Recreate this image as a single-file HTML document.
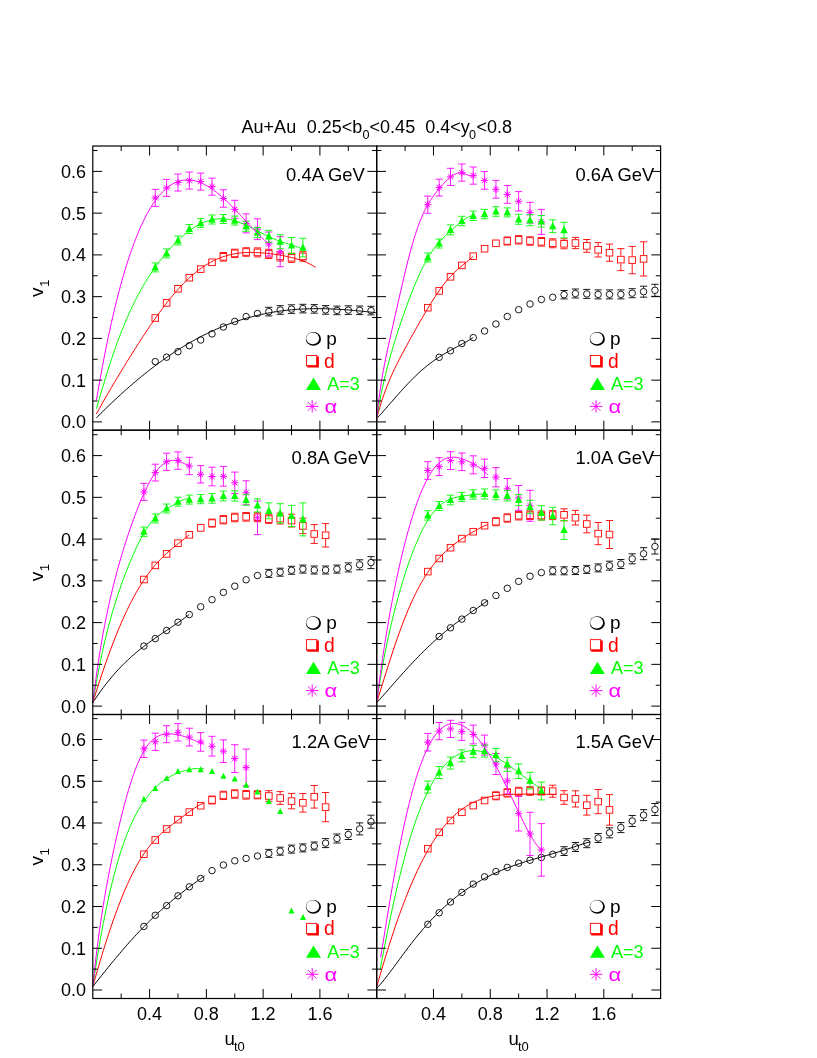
<!DOCTYPE html>
<html><head><meta charset="utf-8"><title>v1 vs ut0</title>
<style>html,body{margin:0;padding:0;background:#fff}svg{display:block;will-change:transform}</style>
</head><body>
<svg width="817" height="1058" viewBox="0 0 817 1058" font-family="Liberation Sans, sans-serif" font-size="18" fill="none" stroke-width="1">
<rect width="817" height="1058" fill="#fff"/>
<g fill="#000" stroke="none">
<text x="241.6" y="133.2">Au+Au</text>
<text x="306.8" y="133.2">0.25&lt;b</text>
<text x="362.6" y="138.79999999999998" font-size="12.6">0</text>
<text x="369.6" y="133.2">&lt;0.45</text>
<text x="425.2" y="133.2">0.4&lt;y</text>
<text x="469" y="138.79999999999998" font-size="12.6">0</text>
<text x="476.6" y="133.2">&lt;0.8</text>
</g>
<g>
<path d="M268.82 307.3V307.85M268.82 315.35V315.9M265.22 307.3H272.42M265.22 315.9H272.42" stroke="#000" stroke-width="0.9"/>
<path d="M280.17 305.7V306.25M280.17 313.75V314.3M276.57 305.7H283.77M276.57 314.3H283.77" stroke="#000" stroke-width="0.9"/>
<path d="M291.53 304.8V305.35M291.53 312.85V313.4M287.93 304.8H295.13M287.93 313.4H295.13" stroke="#000" stroke-width="0.9"/>
<path d="M302.89 304.3V304.85M302.89 312.35V312.9M299.29 304.3H306.49M299.29 312.9H306.49" stroke="#000" stroke-width="0.9"/>
<path d="M314.24 304.6V305.15M314.24 312.65V313.2M310.64 304.6H317.84M310.64 313.2H317.84" stroke="#000" stroke-width="0.9"/>
<path d="M325.6 305.6V306.15M325.6 313.65V314.2M322 305.6H329.2M322 314.2H329.2" stroke="#000" stroke-width="0.9"/>
<path d="M336.95 306.1V306.65M336.95 314.15V314.7M333.35 306.1H340.55M333.35 314.7H340.55" stroke="#000" stroke-width="0.9"/>
<path d="M348.31 305.8V306.35M348.31 313.85V314.4M344.71 305.8H351.91M344.71 314.4H351.91" stroke="#000" stroke-width="0.9"/>
<path d="M359.67 306V306.55M359.67 314.05V314.6M356.07 306H363.27M356.07 314.6H363.27" stroke="#000" stroke-width="0.9"/>
<path d="M371.02 306.3V306.85M371.02 314.35V314.9M367.42 306.3H374.62M367.42 314.9H374.62" stroke="#000" stroke-width="0.9"/>
<circle cx="155.26" cy="361.6" r="3.25" stroke="#000" stroke-width="0.9"/>
<circle cx="166.61" cy="357.2" r="3.25" stroke="#000" stroke-width="0.9"/>
<circle cx="177.97" cy="351.7" r="3.25" stroke="#000" stroke-width="0.9"/>
<circle cx="189.33" cy="345.7" r="3.25" stroke="#000" stroke-width="0.9"/>
<circle cx="200.68" cy="340" r="3.25" stroke="#000" stroke-width="0.9"/>
<circle cx="212.04" cy="333.9" r="3.25" stroke="#000" stroke-width="0.9"/>
<circle cx="223.39" cy="327" r="3.25" stroke="#000" stroke-width="0.9"/>
<circle cx="234.75" cy="321.4" r="3.25" stroke="#000" stroke-width="0.9"/>
<circle cx="246.11" cy="316.6" r="3.25" stroke="#000" stroke-width="0.9"/>
<circle cx="257.46" cy="313.5" r="3.25" stroke="#000" stroke-width="0.9"/>
<circle cx="268.82" cy="311.6" r="3.25" stroke="#000" stroke-width="0.9"/>
<circle cx="280.17" cy="310" r="3.25" stroke="#000" stroke-width="0.9"/>
<circle cx="291.53" cy="309.1" r="3.25" stroke="#000" stroke-width="0.9"/>
<circle cx="302.89" cy="308.6" r="3.25" stroke="#000" stroke-width="0.9"/>
<circle cx="314.24" cy="308.9" r="3.25" stroke="#000" stroke-width="0.9"/>
<circle cx="325.6" cy="309.9" r="3.25" stroke="#000" stroke-width="0.9"/>
<circle cx="336.95" cy="310.4" r="3.25" stroke="#000" stroke-width="0.9"/>
<circle cx="348.31" cy="310.1" r="3.25" stroke="#000" stroke-width="0.9"/>
<circle cx="359.67" cy="310.3" r="3.25" stroke="#000" stroke-width="0.9"/>
<circle cx="371.02" cy="310.6" r="3.25" stroke="#000" stroke-width="0.9"/>
<path d="M223.39 252.5V253M223.39 260.6V261.1M219.79 252.5H226.99M219.79 261.1H226.99" stroke="#f00" stroke-width="0.9"/>
<path d="M234.75 249.2V249.6M234.75 257.2V257.6M231.15 249.2H238.35M231.15 257.6H238.35" stroke="#f00" stroke-width="0.9"/>
<path d="M246.11 247.7V248.2M246.11 255.8V256.3M242.51 247.7H249.71M242.51 256.3H249.71" stroke="#f00" stroke-width="0.9"/>
<path d="M257.46 247.9V248.6M257.46 256.2V256.9M253.86 247.9H261.06M253.86 256.9H261.06" stroke="#f00" stroke-width="0.9"/>
<path d="M268.82 249.3V250.1M268.82 257.7V258.5M265.22 249.3H272.42M265.22 258.5H272.42" stroke="#f00" stroke-width="0.9"/>
<path d="M280.17 251.8V252.6M280.17 260.2V261M276.57 251.8H283.77M276.57 261H283.77" stroke="#f00" stroke-width="0.9"/>
<path d="M291.53 253.2V254M291.53 261.6V262.4M287.93 253.2H295.13M287.93 262.4H295.13" stroke="#f00" stroke-width="0.9"/>
<path d="M302.89 251.7V252.6M302.89 260.2V261.1M299.29 251.7H306.49M299.29 261.1H306.49" stroke="#f00" stroke-width="0.9"/>
<rect x="151.96" y="314.7" width="6.6" height="6.6" stroke="#f00" stroke-width="0.9"/>
<rect x="163.31" y="299.6" width="6.6" height="6.6" stroke="#f00" stroke-width="0.9"/>
<rect x="174.67" y="285.5" width="6.6" height="6.6" stroke="#f00" stroke-width="0.9"/>
<rect x="186.03" y="274.4" width="6.6" height="6.6" stroke="#f00" stroke-width="0.9"/>
<rect x="197.38" y="265.8" width="6.6" height="6.6" stroke="#f00" stroke-width="0.9"/>
<rect x="208.74" y="259" width="6.6" height="6.6" stroke="#f00" stroke-width="0.9"/>
<rect x="220.09" y="253.5" width="6.6" height="6.6" stroke="#f00" stroke-width="0.9"/>
<rect x="231.45" y="250.1" width="6.6" height="6.6" stroke="#f00" stroke-width="0.9"/>
<rect x="242.81" y="248.7" width="6.6" height="6.6" stroke="#f00" stroke-width="0.9"/>
<rect x="254.16" y="249.1" width="6.6" height="6.6" stroke="#f00" stroke-width="0.9"/>
<rect x="265.52" y="250.6" width="6.6" height="6.6" stroke="#f00" stroke-width="0.9"/>
<rect x="276.87" y="253.1" width="6.6" height="6.6" stroke="#f00" stroke-width="0.9"/>
<rect x="288.23" y="254.5" width="6.6" height="6.6" stroke="#f00" stroke-width="0.9"/>
<rect x="299.59" y="253.1" width="6.6" height="6.6" stroke="#f00" stroke-width="0.9"/>
<path d="M155.26 189.4V197.9M155.26 197.9V206.4M151.66 189.4H158.86M151.66 206.4H158.86" stroke="#f0f" stroke-width="0.9"/>
<path d="M166.61 179.4V187.9M166.61 187.9V196.4M163.01 179.4H170.21M163.01 196.4H170.21" stroke="#f0f" stroke-width="0.9"/>
<path d="M177.97 174V182.5M177.97 182.5V191M174.37 174H181.57M174.37 191H181.57" stroke="#f0f" stroke-width="0.9"/>
<path d="M189.33 172.1V180.6M189.33 180.6V189.1M185.73 172.1H192.93M185.73 189.1H192.93" stroke="#f0f" stroke-width="0.9"/>
<path d="M200.68 173.1V181.6M200.68 181.6V190.1M197.08 173.1H204.28M197.08 190.1H204.28" stroke="#f0f" stroke-width="0.9"/>
<path d="M212.04 178.2V186.7M212.04 186.7V195.2M208.44 178.2H215.64M208.44 195.2H215.64" stroke="#f0f" stroke-width="0.9"/>
<path d="M223.39 189.8V198.5M223.39 198.5V207.2M219.79 189.8H226.99M219.79 207.2H226.99" stroke="#f0f" stroke-width="0.9"/>
<path d="M234.75 200.3V209.3M234.75 209.3V218.3M231.15 200.3H238.35M231.15 218.3H238.35" stroke="#f0f" stroke-width="0.9"/>
<path d="M246.11 213.9V223.4M246.11 223.4V232.9M242.51 213.9H249.71M242.51 232.9H249.71" stroke="#f0f" stroke-width="0.9"/>
<path d="M257.46 218.8V229.2M257.46 229.2V239.6M253.86 218.8H261.06M253.86 239.6H261.06" stroke="#f0f" stroke-width="0.9"/>
<path d="M268.82 232V244M268.82 244V256M265.22 232H272.42M265.22 256H272.42" stroke="#f0f" stroke-width="0.9"/>
<path d="M280.17 236.7V251.7M280.17 251.7V266.7M276.57 236.7H283.77M276.57 266.7H283.77" stroke="#f0f" stroke-width="0.9"/>
<path d="M151.66 197.9H158.86M155.26 194.3V201.5M152.67 195.31L157.85 200.49M152.67 200.49L157.85 195.31" stroke="#f0f" stroke-width="1"/>
<path d="M163.01 187.9H170.21M166.61 184.3V191.5M164.02 185.31L169.21 190.49M164.02 190.49L169.21 185.31" stroke="#f0f" stroke-width="1"/>
<path d="M174.37 182.5H181.57M177.97 178.9V186.1M175.38 179.91L180.56 185.09M175.38 185.09L180.56 179.91" stroke="#f0f" stroke-width="1"/>
<path d="M185.73 180.6H192.93M189.33 177V184.2M186.73 178.01L191.92 183.19M186.73 183.19L191.92 178.01" stroke="#f0f" stroke-width="1"/>
<path d="M197.08 181.6H204.28M200.68 178V185.2M198.09 179.01L203.27 184.19M198.09 184.19L203.27 179.01" stroke="#f0f" stroke-width="1"/>
<path d="M208.44 186.7H215.64M212.04 183.1V190.3M209.45 184.11L214.63 189.29M209.45 189.29L214.63 184.11" stroke="#f0f" stroke-width="1"/>
<path d="M219.79 198.5H226.99M223.39 194.9V202.1M220.8 195.91L225.99 201.09M220.8 201.09L225.99 195.91" stroke="#f0f" stroke-width="1"/>
<path d="M231.15 209.3H238.35M234.75 205.7V212.9M232.16 206.71L237.34 211.89M232.16 211.89L237.34 206.71" stroke="#f0f" stroke-width="1"/>
<path d="M242.51 223.4H249.71M246.11 219.8V227M243.51 220.81L248.7 225.99M243.51 225.99L248.7 220.81" stroke="#f0f" stroke-width="1"/>
<path d="M253.86 229.2H261.06M257.46 225.6V232.8M254.87 226.61L260.05 231.79M254.87 231.79L260.05 226.61" stroke="#f0f" stroke-width="1"/>
<path d="M265.22 244H272.42M268.82 240.4V247.6M266.23 241.41L271.41 246.59M266.23 246.59L271.41 241.41" stroke="#f0f" stroke-width="1"/>
<path d="M276.57 251.7H283.77M280.17 248.1V255.3M277.58 249.11L282.77 254.29M277.58 254.29L282.77 249.11" stroke="#f0f" stroke-width="1"/>
<path d="M155.26 262.9V267.4M155.26 267.4V271.9M151.66 262.9H158.86M151.66 271.9H158.86" stroke="#0f0" stroke-width="0.9"/>
<path d="M166.61 248.9V253.4M166.61 253.4V257.9M163.01 248.9H170.21M163.01 257.9H170.21" stroke="#0f0" stroke-width="0.9"/>
<path d="M177.97 236V240.5M177.97 240.5V245M174.37 236H181.57M174.37 245H181.57" stroke="#0f0" stroke-width="0.9"/>
<path d="M189.33 224.5V229M189.33 229V233.5M185.73 224.5H192.93M185.73 233.5H192.93" stroke="#0f0" stroke-width="0.9"/>
<path d="M200.68 218.6V223.1M200.68 223.1V227.6M197.08 218.6H204.28M197.08 227.6H204.28" stroke="#0f0" stroke-width="0.9"/>
<path d="M212.04 215V219.5M212.04 219.5V224M208.44 215H215.64M208.44 224H215.64" stroke="#0f0" stroke-width="0.9"/>
<path d="M223.39 214.5V219M223.39 219V223.5M219.79 214.5H226.99M219.79 223.5H226.99" stroke="#0f0" stroke-width="0.9"/>
<path d="M234.75 216.1V220.6M234.75 220.6V225.1M231.15 216.1H238.35M231.15 225.1H238.35" stroke="#0f0" stroke-width="0.9"/>
<path d="M246.11 221.3V226.3M246.11 226.3V231.3M242.51 221.3H249.71M242.51 231.3H249.71" stroke="#0f0" stroke-width="0.9"/>
<path d="M257.46 227.6V232.6M257.46 232.6V237.6M253.86 227.6H261.06M253.86 237.6H261.06" stroke="#0f0" stroke-width="0.9"/>
<path d="M268.82 230.3V236.3M268.82 236.3V242.3M265.22 230.3H272.42M265.22 242.3H272.42" stroke="#0f0" stroke-width="0.9"/>
<path d="M280.17 234.7V241.7M280.17 241.7V248.7M276.57 234.7H283.77M276.57 248.7H283.77" stroke="#0f0" stroke-width="0.9"/>
<path d="M291.53 237.5V245.5M291.53 245.5V253.5M287.93 237.5H295.13M287.93 253.5H295.13" stroke="#0f0" stroke-width="0.9"/>
<path d="M302.89 238.3V247.6M302.89 247.6V256.9M299.29 238.3H306.49M299.29 256.9H306.49" stroke="#0f0" stroke-width="0.9"/>
<path d="M151.56 270.51L158.96 270.51L155.26 263.11Z" fill="#0f0" stroke="none"/>
<path d="M162.91 256.51L170.31 256.51L166.61 249.11Z" fill="#0f0" stroke="none"/>
<path d="M174.27 243.61L181.67 243.61L177.97 236.21Z" fill="#0f0" stroke="none"/>
<path d="M185.63 232.11L193.03 232.11L189.33 224.71Z" fill="#0f0" stroke="none"/>
<path d="M196.98 226.21L204.38 226.21L200.68 218.81Z" fill="#0f0" stroke="none"/>
<path d="M208.34 222.61L215.74 222.61L212.04 215.21Z" fill="#0f0" stroke="none"/>
<path d="M219.69 222.11L227.09 222.11L223.39 214.71Z" fill="#0f0" stroke="none"/>
<path d="M231.05 223.71L238.45 223.71L234.75 216.31Z" fill="#0f0" stroke="none"/>
<path d="M242.41 229.41L249.81 229.41L246.11 222.01Z" fill="#0f0" stroke="none"/>
<path d="M253.76 235.71L261.16 235.71L257.46 228.31Z" fill="#0f0" stroke="none"/>
<path d="M265.12 239.41L272.52 239.41L268.82 232.01Z" fill="#0f0" stroke="none"/>
<path d="M276.47 244.81L283.87 244.81L280.17 237.41Z" fill="#0f0" stroke="none"/>
<path d="M287.83 248.61L295.23 248.61L291.53 241.21Z" fill="#0f0" stroke="none"/>
<path d="M299.19 250.71L306.59 250.71L302.89 243.31Z" fill="#0f0" stroke="none"/>
<path d="M96.4 417.9L97.9 416.39L99.4 414.88L100.9 413.39L102.4 411.9L103.9 410.42L105.4 408.95L106.9 407.49L108.4 406.04L109.9 404.6L111.4 403.17L112.9 401.74L114.4 400.33L115.9 398.92L117.4 397.53L118.9 396.14L120.4 394.77L121.9 393.4L123.4 392.05L124.9 390.7L126.4 389.36L127.9 388.04L129.4 386.72L130.9 385.41L132.4 384.12L133.9 382.83L135.4 381.56L136.9 380.29L138.4 379.04L139.9 377.8L141.4 376.56L142.9 375.34L144.4 374.13L145.9 372.93L147.4 371.74L148.9 370.56L150.4 369.39L151.9 368.23L153.4 367.09L154.9 365.95L156.4 364.83L157.9 363.71L159.4 362.61L160.9 361.52L162.4 360.44L163.9 359.37L165.4 358.31L166.9 357.27L168.4 356.23L169.9 355.21L171.4 354.2L172.9 353.2L174.4 352.21L175.9 351.23L177.4 350.26L178.9 349.31L180.4 348.36L181.9 347.43L183.4 346.51L184.9 345.6L186.4 344.71L187.9 343.82L189.4 342.95L190.9 342.08L192.4 341.23L193.9 340.39L195.4 339.57L196.9 338.75L198.4 337.94L199.9 337.15L201.4 336.37L202.9 335.6L204.4 334.84L205.9 334.1L207.4 333.36L208.9 332.64L210.4 331.93L211.9 331.23L213.4 330.54L214.9 329.86L216.4 329.19L217.9 328.54L219.4 327.9L220.9 327.27L222.4 326.65L223.9 326.04L225.4 325.44L226.9 324.85L228.4 324.28L229.9 323.72L231.4 323.17L232.9 322.62L234.4 322.1L235.9 321.58L237.4 321.07L238.9 320.57L240.4 320.09L241.9 319.62L243.4 319.15L244.9 318.7L246.4 318.26L247.9 317.83L249.4 317.41L250.9 317L252.4 316.6L253.9 316.21L255.4 315.84L256.9 315.47L258.4 315.12L259.9 314.77L261.4 314.43L262.9 314.11L264.4 313.8L265.9 313.49L267.4 313.2L268.9 312.91L270.4 312.64L271.9 312.37L273.4 312.12L274.9 311.87L276.4 311.64L277.9 311.41L279.4 311.2L280.9 310.99L282.4 310.79L283.9 310.61L285.4 310.43L286.9 310.26L288.4 310.1L289.9 309.95L291.4 309.8L292.9 309.67L294.4 309.55L295.9 309.43L297.4 309.32L298.9 309.22L300.4 309.13L301.9 309.05L303.4 308.97L304.9 308.91L306.4 308.85L307.9 308.8L309.4 308.76L310.9 308.72L312.4 308.69L313.9 308.67L315.4 308.66L316.9 308.65L318.4 308.65L319.9 308.66L321.4 308.68L322.9 308.7L324.4 308.73L325.9 308.76L327.4 308.8L328.9 308.85L330.4 308.9L331.9 308.96L333.4 309.03L334.9 309.1L336.4 309.18L337.9 309.26L339.4 309.35L340.9 309.44L342.4 309.54L343.9 309.64L345.4 309.75L346.9 309.86L348.4 309.98L349.9 310.1L351.4 310.23L352.9 310.36L354.4 310.49L355.9 310.63L357.4 310.77L358.9 310.91L360.4 311.06L361.9 311.21L363.4 311.37L364.9 311.53L366.4 311.69L367.9 311.85L369.4 312.01L370.9 312.18L372.4 312.35L373.9 312.52L375.4 312.69L376.7 312.85" stroke="#000" stroke-width="1" stroke-linejoin="round"/>
<path d="M96.4 414L97.9 411.25L99.4 408.52L100.9 405.83L102.4 403.16L103.9 400.51L105.4 397.88L106.9 395.28L108.4 392.69L109.9 390.11L111.4 387.55L112.9 385.01L114.4 382.48L115.9 379.96L117.4 377.46L118.9 374.97L120.4 372.48L121.9 370.01L123.4 367.55L124.9 365.1L126.4 362.67L127.9 360.24L129.4 357.82L130.9 355.42L132.4 353.02L133.9 350.64L135.4 348.27L136.9 345.92L138.4 343.57L139.9 341.25L141.4 338.94L142.9 336.64L144.4 334.36L145.9 332.1L147.4 329.85L148.9 327.63L150.4 325.42L151.9 323.24L153.4 321.07L154.9 318.93L156.4 316.81L157.9 314.72L159.4 312.65L160.9 310.61L162.4 308.6L163.9 306.61L165.4 304.65L166.9 302.72L168.4 300.82L169.9 298.96L171.4 297.12L172.9 295.32L174.4 293.55L175.9 291.81L177.4 290.11L178.9 288.45L180.4 286.82L181.9 285.23L183.4 283.67L184.9 282.16L186.4 280.68L187.9 279.24L189.4 277.84L190.9 276.47L192.4 275.15L193.9 273.87L195.4 272.62L196.9 271.42L198.4 270.26L199.9 269.13L201.4 268.05L202.9 267.01L204.4 266.01L205.9 265.04L207.4 264.12L208.9 263.24L210.4 262.39L211.9 261.59L213.4 260.82L214.9 260.09L216.4 259.4L217.9 258.75L219.4 258.13L220.9 257.55L222.4 257.01L223.9 256.5L225.4 256.02L226.9 255.58L228.4 255.17L229.9 254.8L231.4 254.45L232.9 254.14L234.4 253.85L235.9 253.6L237.4 253.37L238.9 253.17L240.4 252.99L241.9 252.84L243.4 252.72L244.9 252.62L246.4 252.54L247.9 252.49L249.4 252.45L250.9 252.44L252.4 252.44L253.9 252.47L255.4 252.51L256.9 252.57L258.4 252.64L259.9 252.73L261.4 252.83L262.9 252.95L264.4 253.08L265.9 253.23L267.4 253.39L268.9 253.56L270.4 253.74L271.9 253.93L273.4 254.13L274.9 254.35L276.4 254.58L277.9 254.81L279.4 255.06L280.9 255.32L282.4 255.6L283.9 255.88L285.4 256.18L286.9 256.49L288.4 256.82L289.9 257.16L291.4 257.52L292.9 257.9L294.4 258.3L295.9 258.71L297.4 259.16L298.9 259.62L300.4 260.12L301.9 260.64L303.4 261.2L304.9 261.79L306.4 262.42L307.9 263.09L309.4 263.81L310.9 264.57L312.4 265.39L313.9 266.27L315.4 267.2L315.7 267.4" stroke="#f00" stroke-width="1" stroke-linejoin="round"/>
<path d="M96.4 408.8L97.9 403.54L99.4 398.34L100.9 393.2L102.4 388.12L103.9 383.13L105.4 378.21L106.9 373.39L108.4 368.65L109.9 364.01L111.4 359.47L112.9 355.02L114.4 350.68L115.9 346.43L117.4 342.29L118.9 338.25L120.4 334.31L121.9 330.48L123.4 326.74L124.9 323.1L126.4 319.56L127.9 316.11L129.4 312.75L130.9 309.49L132.4 306.31L133.9 303.22L135.4 300.21L136.9 297.29L138.4 294.44L139.9 291.67L141.4 288.97L142.9 286.34L144.4 283.79L145.9 281.29L147.4 278.86L148.9 276.5L150.4 274.19L151.9 271.94L153.4 269.74L154.9 267.6L156.4 265.51L157.9 263.47L159.4 261.47L160.9 259.53L162.4 257.63L163.9 255.78L165.4 253.97L166.9 252.2L168.4 250.48L169.9 248.8L171.4 247.16L172.9 245.56L174.4 244.01L175.9 242.49L177.4 241.02L178.9 239.59L180.4 238.2L181.9 236.85L183.4 235.55L184.9 234.29L186.4 233.07L187.9 231.9L189.4 230.77L190.9 229.69L192.4 228.66L193.9 227.67L195.4 226.73L196.9 225.84L198.4 225L199.9 224.21L201.4 223.47L202.9 222.79L204.4 222.16L205.9 221.58L207.4 221.05L208.9 220.58L210.4 220.16L211.9 219.8L213.4 219.49L214.9 219.24L216.4 219.04L217.9 218.9L219.4 218.81L220.9 218.78L222.4 218.8L223.9 218.87L225.4 219L226.9 219.18L228.4 219.4L229.9 219.68L231.4 220L232.9 220.37L234.4 220.78L235.9 221.23L237.4 221.73L238.9 222.26L240.4 222.83L241.9 223.43L243.4 224.06L244.9 224.72L246.4 225.4L247.9 226.11L249.4 226.84L250.9 227.58L252.4 228.34L253.9 229.11L255.4 229.88L256.9 230.66L258.4 231.44L259.9 232.22L261.4 232.99L262.9 233.76L264.4 234.51L265.9 235.25L267.4 235.98L268.9 236.69L270.4 237.38L271.9 238.05L273.4 238.7L274.9 239.32L276.4 239.92L277.9 240.5L279.4 241.05L280.9 241.58L282.4 242.09L283.9 242.58L285.4 243.06L286.9 243.52L288.4 243.98L289.9 244.43L291.4 244.89L292.9 245.36L294.4 245.84L295.9 246.36L297.4 246.92L298.9 247.53L300.4 248.2L301.9 248.96L302.9 249.51" stroke="#0f0" stroke-width="1" stroke-linejoin="round"/>
<path d="M96.4 400.2L97.9 391.43L99.4 382.91L100.9 374.61L102.4 366.55L103.9 358.71L105.4 351.09L106.9 343.69L108.4 336.5L109.9 329.52L111.4 322.75L112.9 316.18L114.4 309.81L115.9 303.63L117.4 297.65L118.9 291.85L120.4 286.24L121.9 280.81L123.4 275.56L124.9 270.49L126.4 265.58L127.9 260.85L129.4 256.28L130.9 251.87L132.4 247.62L133.9 243.53L135.4 239.59L136.9 235.81L138.4 232.17L139.9 228.68L141.4 225.33L142.9 222.13L144.4 219.06L145.9 216.12L147.4 213.32L148.9 210.65L150.4 208.11L151.9 205.7L153.4 203.4L154.9 201.23L156.4 199.18L157.9 197.24L159.4 195.42L160.9 193.72L162.4 192.12L163.9 190.63L165.4 189.24L166.9 187.96L168.4 186.79L169.9 185.71L171.4 184.73L172.9 183.85L174.4 183.06L175.9 182.37L177.4 181.76L178.9 181.25L180.4 180.82L181.9 180.48L183.4 180.22L184.9 180.04L186.4 179.94L187.9 179.93L189.4 179.98L190.9 180.12L192.4 180.32L193.9 180.6L195.4 180.95L196.9 181.37L198.4 181.85L199.9 182.4L201.4 183.01L202.9 183.68L204.4 184.41L205.9 185.2L207.4 186.05L208.9 186.95L210.4 187.9L211.9 188.91L213.4 189.96L214.9 191.06L216.4 192.21L217.9 193.4L219.4 194.63L220.9 195.91L222.4 197.22L223.9 198.57L225.4 199.95L226.9 201.36L228.4 202.8L229.9 204.27L231.4 205.77L232.9 207.29L234.4 208.84L235.9 210.4L237.4 211.97L238.9 213.57L240.4 215.17L241.9 216.78L243.4 218.4L244.9 220.03L246.4 221.65L247.9 223.28L249.4 224.9L250.9 226.51L252.4 228.11L253.9 229.7L255.4 231.27L256.9 232.82L258.4 234.35L259.9 235.85L261.4 237.31L262.9 238.75L264.4 240.15L265.9 241.5L267.4 242.81L268.8 243.98" stroke="#f0f" stroke-width="1" stroke-linejoin="round"/>
</g>
<path d="M121.19 430.2v-5M121.19 146v5M149.58 430.2v-9.5M149.58 146v9.5M177.97 430.2v-5M177.97 146v5M206.36 430.2v-9.5M206.36 146v9.5M234.75 430.2v-5M234.75 146v5M263.14 430.2v-9.5M263.14 146v9.5M291.53 430.2v-5M291.53 146v5M319.92 430.2v-9.5M319.92 146v9.5M348.31 430.2v-5M348.31 146v5M92.8 421.9h9.3M376.7 421.9h-9.3M92.8 401.02h4.8M376.7 401.02h-4.8M92.8 380.15h9.3M376.7 380.15h-9.3M92.8 359.27h4.8M376.7 359.27h-4.8M92.8 338.4h9.3M376.7 338.4h-9.3M92.8 317.52h4.8M376.7 317.52h-4.8M92.8 296.65h9.3M376.7 296.65h-9.3M92.8 275.77h4.8M376.7 275.77h-4.8M92.8 254.9h9.3M376.7 254.9h-9.3M92.8 234.02h4.8M376.7 234.02h-4.8M92.8 213.15h9.3M376.7 213.15h-9.3M92.8 192.27h4.8M376.7 192.27h-4.8M92.8 171.4h9.3M376.7 171.4h-9.3M92.8 150.52h4.8M376.7 150.52h-4.8" stroke="#000"/>
<rect x="92.8" y="146" width="283.9" height="284.2" stroke="#000" stroke-width="1.2"/>
<text x="364.8" y="180.6" text-anchor="end" fill="#000" stroke="none" font-size="18.4">0.4A GeV</text>
<g transform="translate(0 0)">
<ellipse cx="313.4" cy="338.9" rx="7.6" ry="6.9" fill="#000" stroke="none"/>
<ellipse cx="312.7" cy="338.35" rx="6.45" ry="5.9" fill="#fff" stroke="none"/>
<rect x="306.45" y="355.45" width="10.4" height="10.4" stroke="#f00" stroke-width="0.9"/>
<path d="M316.4 356.4H318.9V367.6H307.3V365.3H316.4Z" fill="#f00" stroke="none"/>
<path d="M306 389.9L321 389.9L313.5 377.5Z" fill="#0f0" stroke="none"/>
<path d="M312.2 400.2V412.6M306 406.4H318.4M307.85 402.05L316.55 410.75M307.85 410.75L316.55 402.05" stroke="#f0f" stroke-width="0.95"/>
<g stroke="none" font-size="19">
<text x="326.2" y="345.2" fill="#000">p</text>
<text x="324.0" y="367.5" fill="#f00" font-size="19.3">d</text>
<text x="327.2" y="389.9" fill="#0f0" font-size="18">A=3</text>
<text transform="translate(324.6 412.7) scale(1.16 1)" x="0" y="0" fill="#f0f" font-size="19">α</text>
</g></g>
<g fill="#000" stroke="none" text-anchor="end">
<text x="86" y="428.3">0.0</text>
<text x="86" y="386.55">0.1</text>
<text x="86" y="344.8">0.2</text>
<text x="86" y="303.05">0.3</text>
<text x="86" y="261.3">0.4</text>
<text x="86" y="219.55">0.5</text>
<text x="86" y="177.8">0.6</text>
</g>
<g fill="#000" stroke="none" transform="translate(42.9 297) rotate(-90)"><text x="0" y="0" font-size="19">v</text><text x="10" y="6" font-size="13.5">1</text></g>
<g>
<path d="M564.07 290.5V290.95M564.07 298.45V298.9M560.47 290.5H567.67M560.47 298.9H567.67" stroke="#000" stroke-width="0.9"/>
<path d="M575.43 289V289.75M575.43 297.25V298M571.83 289H579.03M571.83 298H579.03" stroke="#000" stroke-width="0.9"/>
<path d="M586.79 289.4V290.15M586.79 297.65V298.4M583.19 289.4H590.39M583.19 298.4H590.39" stroke="#000" stroke-width="0.9"/>
<path d="M598.14 289.9V290.65M598.14 298.15V298.9M594.54 289.9H601.74M594.54 298.9H601.74" stroke="#000" stroke-width="0.9"/>
<path d="M609.5 289.9V290.65M609.5 298.15V298.9M605.9 289.9H613.1M605.9 298.9H613.1" stroke="#000" stroke-width="0.9"/>
<path d="M620.85 289.9V290.65M620.85 298.15V298.9M617.25 289.9H624.45M617.25 298.9H624.45" stroke="#000" stroke-width="0.9"/>
<path d="M632.21 288.7V289.45M632.21 296.95V297.7M628.61 288.7H635.81M628.61 297.7H635.81" stroke="#000" stroke-width="0.9"/>
<path d="M643.57 286.2V287.95M643.57 295.45V297.2M639.97 286.2H647.17M639.97 297.2H647.17" stroke="#000" stroke-width="0.9"/>
<path d="M654.92 284.3V286.55M654.92 294.05V296.3M651.32 284.3H658.52M651.32 296.3H658.52" stroke="#000" stroke-width="0.9"/>
<circle cx="439.16" cy="357.3" r="3.25" stroke="#000" stroke-width="0.9"/>
<circle cx="450.51" cy="350.8" r="3.25" stroke="#000" stroke-width="0.9"/>
<circle cx="461.87" cy="343.5" r="3.25" stroke="#000" stroke-width="0.9"/>
<circle cx="473.23" cy="337.6" r="3.25" stroke="#000" stroke-width="0.9"/>
<circle cx="484.58" cy="331" r="3.25" stroke="#000" stroke-width="0.9"/>
<circle cx="495.94" cy="324" r="3.25" stroke="#000" stroke-width="0.9"/>
<circle cx="507.29" cy="316.5" r="3.25" stroke="#000" stroke-width="0.9"/>
<circle cx="518.65" cy="309.7" r="3.25" stroke="#000" stroke-width="0.9"/>
<circle cx="530.01" cy="304" r="3.25" stroke="#000" stroke-width="0.9"/>
<circle cx="541.36" cy="299.5" r="3.25" stroke="#000" stroke-width="0.9"/>
<circle cx="552.72" cy="297.3" r="3.25" stroke="#000" stroke-width="0.9"/>
<circle cx="564.07" cy="294.7" r="3.25" stroke="#000" stroke-width="0.9"/>
<circle cx="575.43" cy="293.5" r="3.25" stroke="#000" stroke-width="0.9"/>
<circle cx="586.79" cy="293.9" r="3.25" stroke="#000" stroke-width="0.9"/>
<circle cx="598.14" cy="294.4" r="3.25" stroke="#000" stroke-width="0.9"/>
<circle cx="609.5" cy="294.4" r="3.25" stroke="#000" stroke-width="0.9"/>
<circle cx="620.85" cy="294.4" r="3.25" stroke="#000" stroke-width="0.9"/>
<circle cx="632.21" cy="293.2" r="3.25" stroke="#000" stroke-width="0.9"/>
<circle cx="643.57" cy="291.7" r="3.25" stroke="#000" stroke-width="0.9"/>
<circle cx="654.92" cy="290.3" r="3.25" stroke="#000" stroke-width="0.9"/>
<path d="M507.29 237V237.2M507.29 244.8V245M503.69 237H510.89M503.69 245H510.89" stroke="#f00" stroke-width="0.9"/>
<path d="M518.65 235.64V236M518.65 243.6V243.96M515.05 235.64H522.25M515.05 243.96H522.25" stroke="#f00" stroke-width="0.9"/>
<path d="M530.01 236.76V237.2M530.01 244.8V245.24M526.41 236.76H533.61M526.41 245.24H533.61" stroke="#f00" stroke-width="0.9"/>
<path d="M541.36 237.48V238M541.36 245.6V246.12M537.76 237.48H544.96M537.76 246.12H544.96" stroke="#f00" stroke-width="0.9"/>
<path d="M552.72 238.82V239.5M552.72 247.1V247.78M549.12 238.82H556.32M549.12 247.78H556.32" stroke="#f00" stroke-width="0.9"/>
<path d="M564.07 238.8V240M564.07 247.6V248.8M560.47 238.8H567.67M560.47 248.8H567.67" stroke="#f00" stroke-width="0.9"/>
<path d="M575.43 237.4V239.2M575.43 246.8V248.6M571.83 237.4H579.03M571.83 248.6H579.03" stroke="#f00" stroke-width="0.9"/>
<path d="M586.79 239.5V242.1M586.79 249.7V252.3M583.19 239.5H590.39M583.19 252.3H590.39" stroke="#f00" stroke-width="0.9"/>
<path d="M598.14 242.6V246M598.14 253.6V257M594.54 242.6H601.74M594.54 257H601.74" stroke="#f00" stroke-width="0.9"/>
<path d="M609.5 244.1V248.9M609.5 256.5V261.3M605.9 244.1H613.1M605.9 261.3H613.1" stroke="#f00" stroke-width="0.9"/>
<path d="M620.85 248.6V255.8M620.85 263.4V270.6M617.25 248.6H624.45M617.25 270.6H624.45" stroke="#f00" stroke-width="0.9"/>
<path d="M632.21 246.4V256.3M632.21 263.9V273.8M628.61 246.4H635.81M628.61 273.8H635.81" stroke="#f00" stroke-width="0.9"/>
<path d="M643.57 241.8V255.1M643.57 262.7V276M639.97 241.8H647.17M639.97 276H647.17" stroke="#f00" stroke-width="0.9"/>
<rect x="424.5" y="304.4" width="6.6" height="6.6" stroke="#f00" stroke-width="0.9"/>
<rect x="435.86" y="287.6" width="6.6" height="6.6" stroke="#f00" stroke-width="0.9"/>
<rect x="447.21" y="273.5" width="6.6" height="6.6" stroke="#f00" stroke-width="0.9"/>
<rect x="458.57" y="262.1" width="6.6" height="6.6" stroke="#f00" stroke-width="0.9"/>
<rect x="469.93" y="252.9" width="6.6" height="6.6" stroke="#f00" stroke-width="0.9"/>
<rect x="481.28" y="245.4" width="6.6" height="6.6" stroke="#f00" stroke-width="0.9"/>
<rect x="492.64" y="240" width="6.6" height="6.6" stroke="#f00" stroke-width="0.9"/>
<rect x="503.99" y="237.7" width="6.6" height="6.6" stroke="#f00" stroke-width="0.9"/>
<rect x="515.35" y="236.5" width="6.6" height="6.6" stroke="#f00" stroke-width="0.9"/>
<rect x="526.71" y="237.7" width="6.6" height="6.6" stroke="#f00" stroke-width="0.9"/>
<rect x="538.06" y="238.5" width="6.6" height="6.6" stroke="#f00" stroke-width="0.9"/>
<rect x="549.42" y="240" width="6.6" height="6.6" stroke="#f00" stroke-width="0.9"/>
<rect x="560.77" y="240.5" width="6.6" height="6.6" stroke="#f00" stroke-width="0.9"/>
<rect x="572.13" y="239.7" width="6.6" height="6.6" stroke="#f00" stroke-width="0.9"/>
<rect x="583.49" y="242.6" width="6.6" height="6.6" stroke="#f00" stroke-width="0.9"/>
<rect x="594.84" y="246.5" width="6.6" height="6.6" stroke="#f00" stroke-width="0.9"/>
<rect x="606.2" y="249.4" width="6.6" height="6.6" stroke="#f00" stroke-width="0.9"/>
<rect x="617.55" y="256.3" width="6.6" height="6.6" stroke="#f00" stroke-width="0.9"/>
<rect x="628.91" y="256.8" width="6.6" height="6.6" stroke="#f00" stroke-width="0.9"/>
<rect x="640.27" y="255.6" width="6.6" height="6.6" stroke="#f00" stroke-width="0.9"/>
<path d="M427.8 196.1V204.7M427.8 204.7V213.3M424.2 196.1H431.4M424.2 213.3H431.4" stroke="#f0f" stroke-width="0.9"/>
<path d="M439.16 179.2V187.6M439.16 187.6V196M435.56 179.2H442.76M435.56 196H442.76" stroke="#f0f" stroke-width="0.9"/>
<path d="M450.51 168.3V176.9M450.51 176.9V185.5M446.91 168.3H454.11M446.91 185.5H454.11" stroke="#f0f" stroke-width="0.9"/>
<path d="M461.87 164V172.6M461.87 172.6V181.2M458.27 164H465.47M458.27 181.2H465.47" stroke="#f0f" stroke-width="0.9"/>
<path d="M473.23 167V175.6M473.23 175.6V184.2M469.63 167H476.83M469.63 184.2H476.83" stroke="#f0f" stroke-width="0.9"/>
<path d="M484.58 171.6V180.4M484.58 180.4V189.2M480.98 171.6H488.18M480.98 189.2H488.18" stroke="#f0f" stroke-width="0.9"/>
<path d="M495.94 180.4V189.3M495.94 189.3V198.2M492.34 180.4H499.54M492.34 198.2H499.54" stroke="#f0f" stroke-width="0.9"/>
<path d="M507.29 185.5V194.4M507.29 194.4V203.3M503.69 185.5H510.89M503.69 203.3H510.89" stroke="#f0f" stroke-width="0.9"/>
<path d="M518.65 191.6V201.3M518.65 201.3V211M515.05 191.6H522.25M515.05 211H522.25" stroke="#f0f" stroke-width="0.9"/>
<path d="M530.01 202.3V212.7M530.01 212.7V223.1M526.41 202.3H533.61M526.41 223.1H533.61" stroke="#f0f" stroke-width="0.9"/>
<path d="M541.36 209.4V221.9M541.36 221.9V234.4M537.76 209.4H544.96M537.76 234.4H544.96" stroke="#f0f" stroke-width="0.9"/>
<path d="M424.2 204.7H431.4M427.8 201.1V208.3M425.21 202.11L430.39 207.29M425.21 207.29L430.39 202.11" stroke="#f0f" stroke-width="1"/>
<path d="M435.56 187.6H442.76M439.16 184V191.2M436.57 185.01L441.75 190.19M436.57 190.19L441.75 185.01" stroke="#f0f" stroke-width="1"/>
<path d="M446.91 176.9H454.11M450.51 173.3V180.5M447.92 174.31L453.11 179.49M447.92 179.49L453.11 174.31" stroke="#f0f" stroke-width="1"/>
<path d="M458.27 172.6H465.47M461.87 169V176.2M459.28 170.01L464.46 175.19M459.28 175.19L464.46 170.01" stroke="#f0f" stroke-width="1"/>
<path d="M469.63 175.6H476.83M473.23 172V179.2M470.63 173.01L475.82 178.19M470.63 178.19L475.82 173.01" stroke="#f0f" stroke-width="1"/>
<path d="M480.98 180.4H488.18M484.58 176.8V184M481.99 177.81L487.17 182.99M481.99 182.99L487.17 177.81" stroke="#f0f" stroke-width="1"/>
<path d="M492.34 189.3H499.54M495.94 185.7V192.9M493.35 186.71L498.53 191.89M493.35 191.89L498.53 186.71" stroke="#f0f" stroke-width="1"/>
<path d="M503.69 194.4H510.89M507.29 190.8V198M504.7 191.81L509.89 196.99M504.7 196.99L509.89 191.81" stroke="#f0f" stroke-width="1"/>
<path d="M515.05 201.3H522.25M518.65 197.7V204.9M516.06 198.71L521.24 203.89M516.06 203.89L521.24 198.71" stroke="#f0f" stroke-width="1"/>
<path d="M526.41 212.7H533.61M530.01 209.1V216.3M527.41 210.11L532.6 215.29M527.41 215.29L532.6 210.11" stroke="#f0f" stroke-width="1"/>
<path d="M537.76 221.9H544.96M541.36 218.3V225.5M538.77 219.31L543.95 224.49M538.77 224.49L543.95 219.31" stroke="#f0f" stroke-width="1"/>
<path d="M427.8 253V257.5M427.8 257.5V262M424.2 253H431.4M424.2 262H431.4" stroke="#0f0" stroke-width="0.9"/>
<path d="M439.16 239V243.5M439.16 243.5V248M435.56 239H442.76M435.56 248H442.76" stroke="#0f0" stroke-width="0.9"/>
<path d="M450.51 224.9V229.9M450.51 229.9V234.9M446.91 224.9H454.11M446.91 234.9H454.11" stroke="#0f0" stroke-width="0.9"/>
<path d="M461.87 216.3V221M461.87 221V225.7M458.27 216.3H465.47M458.27 225.7H465.47" stroke="#0f0" stroke-width="0.9"/>
<path d="M473.23 211.1V215.8M473.23 215.8V220.5M469.63 211.1H476.83M469.63 220.5H476.83" stroke="#0f0" stroke-width="0.9"/>
<path d="M484.58 209.4V214.1M484.58 214.1V218.8M480.98 209.4H488.18M480.98 218.8H488.18" stroke="#0f0" stroke-width="0.9"/>
<path d="M495.94 206.7V211.5M495.94 211.5V216.3M492.34 206.7H499.54M492.34 216.3H499.54" stroke="#0f0" stroke-width="0.9"/>
<path d="M507.29 207.9V212.4M507.29 212.4V216.9M503.69 207.9H510.89M503.69 216.9H510.89" stroke="#0f0" stroke-width="0.9"/>
<path d="M518.65 214.3V219.3M518.65 219.3V224.3M515.05 214.3H522.25M515.05 224.3H522.25" stroke="#0f0" stroke-width="0.9"/>
<path d="M530.01 214.7V220.2M530.01 220.2V225.7M526.41 214.7H533.61M526.41 225.7H533.61" stroke="#0f0" stroke-width="0.9"/>
<path d="M541.36 215.5V221.3M541.36 221.3V227.1M537.76 215.5H544.96M537.76 227.1H544.96" stroke="#0f0" stroke-width="0.9"/>
<path d="M552.72 219.8V226.2M552.72 226.2V232.6M549.12 219.8H556.32M549.12 232.6H556.32" stroke="#0f0" stroke-width="0.9"/>
<path d="M564.07 222.3V230.1M564.07 230.1V237.9M560.47 222.3H567.67M560.47 237.9H567.67" stroke="#0f0" stroke-width="0.9"/>
<path d="M424.1 260.61L431.5 260.61L427.8 253.21Z" fill="#0f0" stroke="none"/>
<path d="M435.46 246.61L442.86 246.61L439.16 239.21Z" fill="#0f0" stroke="none"/>
<path d="M446.81 233.01L454.21 233.01L450.51 225.61Z" fill="#0f0" stroke="none"/>
<path d="M458.17 224.11L465.57 224.11L461.87 216.71Z" fill="#0f0" stroke="none"/>
<path d="M469.53 218.91L476.93 218.91L473.23 211.51Z" fill="#0f0" stroke="none"/>
<path d="M480.88 217.21L488.28 217.21L484.58 209.81Z" fill="#0f0" stroke="none"/>
<path d="M492.24 214.61L499.64 214.61L495.94 207.21Z" fill="#0f0" stroke="none"/>
<path d="M503.59 215.51L510.99 215.51L507.29 208.11Z" fill="#0f0" stroke="none"/>
<path d="M514.95 222.41L522.35 222.41L518.65 215.01Z" fill="#0f0" stroke="none"/>
<path d="M526.31 223.31L533.71 223.31L530.01 215.91Z" fill="#0f0" stroke="none"/>
<path d="M537.66 224.41L545.06 224.41L541.36 217.01Z" fill="#0f0" stroke="none"/>
<path d="M549.02 229.31L556.42 229.31L552.72 221.91Z" fill="#0f0" stroke="none"/>
<path d="M560.37 233.21L567.77 233.21L564.07 225.81Z" fill="#0f0" stroke="none"/>
<path d="M376.7 418.5L378.2 416.92L379.7 415.3L381.2 413.66L382.7 412L384.2 410.32L385.7 408.62L387.2 406.92L388.7 405.2L390.2 403.48L391.7 401.75L393.2 400.03L394.7 398.31L396.2 396.6L397.7 394.89L399.2 393.2L400.7 391.52L402.2 389.85L403.7 388.2L405.2 386.58L406.7 384.97L408.2 383.38L409.7 381.82L411.2 380.28L412.7 378.77L414.2 377.29L415.7 375.84L417.2 374.41L418.7 373.02L420.2 371.65L421.7 370.32L423.2 369.02L424.7 367.75L426.2 366.51L427.7 365.3L429.2 364.12L430.7 362.98L432.2 361.86L433.7 360.78L435.2 359.72L436.7 358.69L438.2 357.69L439.7 356.71L441.2 355.76L442.7 354.83L444.2 353.93L445.7 353.04L447.2 352.18L448.7 351.33L450.2 350.49L451.7 349.67L453.2 348.85L454.7 348.05L456.2 347.25L457.7 346.45L459.2 345.65L460.7 344.85L462.2 344.04L463.7 343.22L465.2 342.39L466.7 341.54L468.2 340.67L469.7 339.78L471.2 338.86L472.7 337.91L473.2 337.59" stroke="#000" stroke-width="1" stroke-linejoin="round"/>
<path d="M376.7 418.5L378.2 412.91L379.7 407.68L381.2 402.77L382.7 398.16L384.2 393.81L385.7 389.7L387.2 385.79L388.7 382.07L390.2 378.51L391.7 375.1L393.2 371.8L394.7 368.62L396.2 365.53L397.7 362.52L399.2 359.57L400.7 356.68L402.2 353.83L403.7 351.03L405.2 348.25L406.7 345.5L408.2 342.77L409.7 340.05L411.2 337.35L412.7 334.66L414.2 331.98L415.7 329.32L417.2 326.66L418.7 324.02L420.2 321.39L421.7 318.78L423.2 316.19L424.7 313.61L426.2 311.07L427.7 308.55L429.2 306.07L430.7 303.62L432.2 301.22L433.7 298.85L435.2 296.54L436.7 294.28L438.2 292.08L439.7 289.93L441.2 287.85L442.7 285.83L444.2 283.88L445.7 281.99L447.2 280.18L448.7 278.43L450.2 276.76L451.7 275.15L453.2 273.61L454.7 272.13L456.2 270.71L457.7 269.34L459.2 268.02L460.7 266.75L462.2 265.5L463.7 264.28L465.2 263.06L466.7 261.85L468.2 260.62L469.7 259.36L471.2 258.05L472.7 256.67L473.2 256.19" stroke="#f00" stroke-width="1" stroke-linejoin="round"/>
<path d="M376.7 418.5L378.2 409.54L379.7 401.29L381.2 393.66L382.7 386.56L384.2 379.91L385.7 373.66L387.2 367.73L388.7 362.08L390.2 356.67L391.7 351.46L393.2 346.42L394.7 341.51L396.2 336.73L397.7 332.06L399.2 327.49L400.7 323L402.2 318.59L403.7 314.26L405.2 310.01L406.7 305.84L408.2 301.75L409.7 297.75L411.2 293.84L412.7 290.03L414.2 286.32L415.7 282.71L417.2 279.22L418.7 275.85L420.2 272.6L421.7 269.47L423.2 266.47L424.7 263.6L426.2 260.87L427.7 258.26L429.2 255.78L430.7 253.42L432.2 251.19L433.7 249.07L435.2 247.07L436.7 245.16L438.2 243.36L439.7 241.64L441.2 240L442.7 238.44L444.2 236.93L445.7 235.47L447.2 234.06L448.7 232.68L450.2 231.32L451.7 229.98L453.2 228.66L454.7 227.35L456.2 226.06L457.7 224.77L459.2 223.5L460.7 222.26L462.2 221.06L463.7 219.92L465.2 218.86L466.7 217.9L468.2 217.09L469.7 216.46L471.2 216.07L472.7 215.96L473.2 216" stroke="#0f0" stroke-width="1" stroke-linejoin="round"/>
<path d="M376.7 418.5L378.2 404.96L379.7 393.32L381.2 383.16L382.7 374.12L384.2 365.92L385.7 358.33L387.2 351.15L388.7 344.24L390.2 337.5L391.7 330.84L393.2 324.22L394.7 317.61L396.2 310.99L397.7 304.37L399.2 297.76L400.7 291.18L402.2 284.66L403.7 278.22L405.2 271.91L406.7 265.74L408.2 259.76L409.7 253.98L411.2 248.43L412.7 243.14L414.2 238.1L415.7 233.35L417.2 228.87L418.7 224.67L420.2 220.75L421.7 217.09L423.2 213.69L424.7 210.54L426.2 207.6L427.7 204.87L429.2 202.33L430.7 199.94L432.2 197.7L433.7 195.58L435.2 193.56L436.7 191.63L438.2 189.78L439.7 187.99L441.2 186.26L442.7 184.59L444.2 182.98L445.7 181.43L447.2 179.97L448.7 178.59L450.2 177.32L451.7 176.17L453.2 175.17L454.7 174.34L456.2 173.7L457.7 173.26L459.2 173.03L460.7 173.01L462.2 173.2L463.7 173.58L465.2 174.09L466.7 174.69L468.2 175.29L469.7 175.77L471.2 175.98L472.7 175.73L473.2 175.5" stroke="#f0f" stroke-width="1" stroke-linejoin="round"/>
</g>
<path d="M405.09 430.2v-5M405.09 146v5M433.48 430.2v-9.5M433.48 146v9.5M461.87 430.2v-5M461.87 146v5M490.26 430.2v-9.5M490.26 146v9.5M518.65 430.2v-5M518.65 146v5M547.04 430.2v-9.5M547.04 146v9.5M575.43 430.2v-5M575.43 146v5M603.82 430.2v-9.5M603.82 146v9.5M632.21 430.2v-5M632.21 146v5M376.7 421.9h9.3M660.6 421.9h-9.3M376.7 401.02h4.8M660.6 401.02h-4.8M376.7 380.15h9.3M660.6 380.15h-9.3M376.7 359.27h4.8M660.6 359.27h-4.8M376.7 338.4h9.3M660.6 338.4h-9.3M376.7 317.52h4.8M660.6 317.52h-4.8M376.7 296.65h9.3M660.6 296.65h-9.3M376.7 275.77h4.8M660.6 275.77h-4.8M376.7 254.9h9.3M660.6 254.9h-9.3M376.7 234.02h4.8M660.6 234.02h-4.8M376.7 213.15h9.3M660.6 213.15h-9.3M376.7 192.27h4.8M660.6 192.27h-4.8M376.7 171.4h9.3M660.6 171.4h-9.3M376.7 150.52h4.8M660.6 150.52h-4.8" stroke="#000"/>
<rect x="376.7" y="146" width="283.9" height="284.2" stroke="#000" stroke-width="1.2"/>
<text x="654.2" y="180.6" text-anchor="end" fill="#000" stroke="none" font-size="18.4">0.6A GeV</text>
<g transform="translate(283.9 0)">
<ellipse cx="313.4" cy="338.9" rx="7.6" ry="6.9" fill="#000" stroke="none"/>
<ellipse cx="312.7" cy="338.35" rx="6.45" ry="5.9" fill="#fff" stroke="none"/>
<rect x="306.45" y="355.45" width="10.4" height="10.4" stroke="#f00" stroke-width="0.9"/>
<path d="M316.4 356.4H318.9V367.6H307.3V365.3H316.4Z" fill="#f00" stroke="none"/>
<path d="M306 389.9L321 389.9L313.5 377.5Z" fill="#0f0" stroke="none"/>
<path d="M312.2 400.2V412.6M306 406.4H318.4M307.85 402.05L316.55 410.75M307.85 410.75L316.55 402.05" stroke="#f0f" stroke-width="0.95"/>
<g stroke="none" font-size="19">
<text x="326.2" y="345.2" fill="#000">p</text>
<text x="324.0" y="367.5" fill="#f00" font-size="19.3">d</text>
<text x="327.2" y="389.9" fill="#0f0" font-size="18">A=3</text>
<text transform="translate(324.6 412.7) scale(1.16 1)" x="0" y="0" fill="#f0f" font-size="19">α</text>
</g></g>
<g>
<path d="M268.82 569.4V569.65M268.82 577.15V577.4M265.22 569.4H272.42M265.22 577.4H272.42" stroke="#000" stroke-width="0.9"/>
<path d="M280.17 568.2V568.45M280.17 575.95V576.2M276.57 568.2H283.77M276.57 576.2H283.77" stroke="#000" stroke-width="0.9"/>
<path d="M291.53 566.3V566.55M291.53 574.05V574.3M287.93 566.3H295.13M287.93 574.3H295.13" stroke="#000" stroke-width="0.9"/>
<path d="M302.89 565.1V565.35M302.89 572.85V573.1M299.29 565.1H306.49M299.29 573.1H306.49" stroke="#000" stroke-width="0.9"/>
<path d="M314.24 566V566.25M314.24 573.75V574M310.64 566H317.84M310.64 574H317.84" stroke="#000" stroke-width="0.9"/>
<path d="M325.6 566V566.25M325.6 573.75V574M322 566H329.2M322 574H329.2" stroke="#000" stroke-width="0.9"/>
<path d="M336.95 565.1V565.35M336.95 572.85V573.1M333.35 565.1H340.55M333.35 573.1H340.55" stroke="#000" stroke-width="0.9"/>
<path d="M348.31 562.9V563.65M348.31 571.15V571.9M344.71 562.9H351.91M344.71 571.9H351.91" stroke="#000" stroke-width="0.9"/>
<path d="M359.67 559.8V561.05M359.67 568.55V569.8M356.07 559.8H363.27M356.07 569.8H363.27" stroke="#000" stroke-width="0.9"/>
<path d="M371.02 556.6V558.85M371.02 566.35V568.6M367.42 556.6H374.62M367.42 568.6H374.62" stroke="#000" stroke-width="0.9"/>
<circle cx="143.9" cy="646.1" r="3.25" stroke="#000" stroke-width="0.9"/>
<circle cx="155.26" cy="638.6" r="3.25" stroke="#000" stroke-width="0.9"/>
<circle cx="166.61" cy="630.5" r="3.25" stroke="#000" stroke-width="0.9"/>
<circle cx="177.97" cy="622.2" r="3.25" stroke="#000" stroke-width="0.9"/>
<circle cx="189.33" cy="614.5" r="3.25" stroke="#000" stroke-width="0.9"/>
<circle cx="200.68" cy="606.8" r="3.25" stroke="#000" stroke-width="0.9"/>
<circle cx="212.04" cy="599.7" r="3.25" stroke="#000" stroke-width="0.9"/>
<circle cx="223.39" cy="592.4" r="3.25" stroke="#000" stroke-width="0.9"/>
<circle cx="234.75" cy="586.2" r="3.25" stroke="#000" stroke-width="0.9"/>
<circle cx="246.11" cy="579.8" r="3.25" stroke="#000" stroke-width="0.9"/>
<circle cx="257.46" cy="575.5" r="3.25" stroke="#000" stroke-width="0.9"/>
<circle cx="268.82" cy="573.4" r="3.25" stroke="#000" stroke-width="0.9"/>
<circle cx="280.17" cy="572.2" r="3.25" stroke="#000" stroke-width="0.9"/>
<circle cx="291.53" cy="570.3" r="3.25" stroke="#000" stroke-width="0.9"/>
<circle cx="302.89" cy="569.1" r="3.25" stroke="#000" stroke-width="0.9"/>
<circle cx="314.24" cy="570" r="3.25" stroke="#000" stroke-width="0.9"/>
<circle cx="325.6" cy="570" r="3.25" stroke="#000" stroke-width="0.9"/>
<circle cx="336.95" cy="569.1" r="3.25" stroke="#000" stroke-width="0.9"/>
<circle cx="348.31" cy="567.4" r="3.25" stroke="#000" stroke-width="0.9"/>
<circle cx="359.67" cy="564.8" r="3.25" stroke="#000" stroke-width="0.9"/>
<circle cx="371.02" cy="562.6" r="3.25" stroke="#000" stroke-width="0.9"/>
<path d="M212.04 519.1V519.3M212.04 526.9V527.1M208.44 519.1H215.64M208.44 527.1H215.64" stroke="#f00" stroke-width="0.9"/>
<path d="M223.39 515.54V515.9M223.39 523.5V523.86M219.79 515.54H226.99M219.79 523.86H226.99" stroke="#f00" stroke-width="0.9"/>
<path d="M234.75 513.26V513.7M234.75 521.3V521.74M231.15 513.26H238.35M231.15 521.74H238.35" stroke="#f00" stroke-width="0.9"/>
<path d="M246.11 512.48V513M246.11 520.6V521.12M242.51 512.48H249.71M242.51 521.12H249.71" stroke="#f00" stroke-width="0.9"/>
<path d="M257.46 512.72V513.4M257.46 521V521.68M253.86 512.72H261.06M253.86 521.68H261.06" stroke="#f00" stroke-width="0.9"/>
<path d="M268.82 514.8V515.3M268.82 522.9V523.4M265.22 514.8H272.42M265.22 523.4H272.42" stroke="#f00" stroke-width="0.9"/>
<path d="M280.17 513.2V514.8M280.17 522.4V524M276.57 513.2H283.77M276.57 524H283.77" stroke="#f00" stroke-width="0.9"/>
<path d="M291.53 514.2V516.8M291.53 524.4V527M287.93 514.2H295.13M287.93 527H295.13" stroke="#f00" stroke-width="0.9"/>
<path d="M302.89 518.2V522.1M302.89 529.7V533.6M299.29 518.2H306.49M299.29 533.6H306.49" stroke="#f00" stroke-width="0.9"/>
<path d="M314.24 524.6V530.2M314.24 537.8V543.4M310.64 524.6H317.84M310.64 543.4H317.84" stroke="#f00" stroke-width="0.9"/>
<path d="M325.6 523.6V531.5M325.6 539.1V547M322 523.6H329.2M322 547H329.2" stroke="#f00" stroke-width="0.9"/>
<rect x="140.6" y="576.2" width="6.6" height="6.6" stroke="#f00" stroke-width="0.9"/>
<rect x="151.96" y="562.1" width="6.6" height="6.6" stroke="#f00" stroke-width="0.9"/>
<rect x="163.31" y="550.6" width="6.6" height="6.6" stroke="#f00" stroke-width="0.9"/>
<rect x="174.67" y="539.9" width="6.6" height="6.6" stroke="#f00" stroke-width="0.9"/>
<rect x="186.03" y="531.5" width="6.6" height="6.6" stroke="#f00" stroke-width="0.9"/>
<rect x="197.38" y="524.6" width="6.6" height="6.6" stroke="#f00" stroke-width="0.9"/>
<rect x="208.74" y="519.8" width="6.6" height="6.6" stroke="#f00" stroke-width="0.9"/>
<rect x="220.09" y="516.4" width="6.6" height="6.6" stroke="#f00" stroke-width="0.9"/>
<rect x="231.45" y="514.2" width="6.6" height="6.6" stroke="#f00" stroke-width="0.9"/>
<rect x="242.81" y="513.5" width="6.6" height="6.6" stroke="#f00" stroke-width="0.9"/>
<rect x="254.16" y="513.9" width="6.6" height="6.6" stroke="#f00" stroke-width="0.9"/>
<rect x="265.52" y="515.8" width="6.6" height="6.6" stroke="#f00" stroke-width="0.9"/>
<rect x="276.87" y="515.3" width="6.6" height="6.6" stroke="#f00" stroke-width="0.9"/>
<rect x="288.23" y="517.3" width="6.6" height="6.6" stroke="#f00" stroke-width="0.9"/>
<rect x="299.59" y="522.6" width="6.6" height="6.6" stroke="#f00" stroke-width="0.9"/>
<rect x="310.94" y="530.7" width="6.6" height="6.6" stroke="#f00" stroke-width="0.9"/>
<rect x="322.3" y="532" width="6.6" height="6.6" stroke="#f00" stroke-width="0.9"/>
<path d="M143.9 483.4V491.9M143.9 491.9V500.4M140.3 483.4H147.5M140.3 500.4H147.5" stroke="#f0f" stroke-width="0.9"/>
<path d="M155.26 464.2V472.6M155.26 472.6V481M151.66 464.2H158.86M151.66 481H158.86" stroke="#f0f" stroke-width="0.9"/>
<path d="M166.61 453.2V461.8M166.61 461.8V470.4M163.01 453.2H170.21M163.01 470.4H170.21" stroke="#f0f" stroke-width="0.9"/>
<path d="M177.97 451.9V460.6M177.97 460.6V469.3M174.37 451.9H181.57M174.37 469.3H181.57" stroke="#f0f" stroke-width="0.9"/>
<path d="M189.33 457.3V466M189.33 466V474.7M185.73 457.3H192.93M185.73 474.7H192.93" stroke="#f0f" stroke-width="0.9"/>
<path d="M200.68 465.6V474.3M200.68 474.3V483M197.08 465.6H204.28M197.08 483H204.28" stroke="#f0f" stroke-width="0.9"/>
<path d="M212.04 467.2V476.5M212.04 476.5V485.8M208.44 467.2H215.64M208.44 485.8H215.64" stroke="#f0f" stroke-width="0.9"/>
<path d="M223.39 466.4V476.3M223.39 476.3V486.2M219.79 466.4H226.99M219.79 486.2H226.99" stroke="#f0f" stroke-width="0.9"/>
<path d="M234.75 472.1V482.8M234.75 482.8V493.5M231.15 472.1H238.35M231.15 493.5H238.35" stroke="#f0f" stroke-width="0.9"/>
<path d="M246.11 480.8V492.8M246.11 492.8V504.8M242.51 480.8H249.71M242.51 504.8H249.71" stroke="#f0f" stroke-width="0.9"/>
<path d="M257.46 501V517.8M257.46 517.8V534.6M253.86 501H261.06M253.86 534.6H261.06" stroke="#f0f" stroke-width="0.9"/>
<path d="M140.3 491.9H147.5M143.9 488.3V495.5M141.31 489.31L146.49 494.49M141.31 494.49L146.49 489.31" stroke="#f0f" stroke-width="1"/>
<path d="M151.66 472.6H158.86M155.26 469V476.2M152.67 470.01L157.85 475.19M152.67 475.19L157.85 470.01" stroke="#f0f" stroke-width="1"/>
<path d="M163.01 461.8H170.21M166.61 458.2V465.4M164.02 459.21L169.21 464.39M164.02 464.39L169.21 459.21" stroke="#f0f" stroke-width="1"/>
<path d="M174.37 460.6H181.57M177.97 457V464.2M175.38 458.01L180.56 463.19M175.38 463.19L180.56 458.01" stroke="#f0f" stroke-width="1"/>
<path d="M185.73 466H192.93M189.33 462.4V469.6M186.73 463.41L191.92 468.59M186.73 468.59L191.92 463.41" stroke="#f0f" stroke-width="1"/>
<path d="M197.08 474.3H204.28M200.68 470.7V477.9M198.09 471.71L203.27 476.89M198.09 476.89L203.27 471.71" stroke="#f0f" stroke-width="1"/>
<path d="M208.44 476.5H215.64M212.04 472.9V480.1M209.45 473.91L214.63 479.09M209.45 479.09L214.63 473.91" stroke="#f0f" stroke-width="1"/>
<path d="M219.79 476.3H226.99M223.39 472.7V479.9M220.8 473.71L225.99 478.89M220.8 478.89L225.99 473.71" stroke="#f0f" stroke-width="1"/>
<path d="M231.15 482.8H238.35M234.75 479.2V486.4M232.16 480.21L237.34 485.39M232.16 485.39L237.34 480.21" stroke="#f0f" stroke-width="1"/>
<path d="M242.51 492.8H249.71M246.11 489.2V496.4M243.51 490.21L248.7 495.39M243.51 495.39L248.7 490.21" stroke="#f0f" stroke-width="1"/>
<path d="M253.86 517.8H261.06M257.46 514.2V521.4M254.87 515.21L260.05 520.39M254.87 520.39L260.05 515.21" stroke="#f0f" stroke-width="1"/>
<path d="M143.9 527V531.7M143.9 531.7V536.4M140.3 527H147.5M140.3 536.4H147.5" stroke="#0f0" stroke-width="0.9"/>
<path d="M155.26 514V518.5M155.26 518.5V523M151.66 514H158.86M151.66 523H158.86" stroke="#0f0" stroke-width="0.9"/>
<path d="M166.61 504V508.5M166.61 508.5V513M163.01 504H170.21M163.01 513H170.21" stroke="#0f0" stroke-width="0.9"/>
<path d="M177.97 497.2V501.7M177.97 501.7V506.2M174.37 497.2H181.57M174.37 506.2H181.57" stroke="#0f0" stroke-width="0.9"/>
<path d="M189.33 495.1V499.6M189.33 499.6V504.1M185.73 495.1H192.93M185.73 504.1H192.93" stroke="#0f0" stroke-width="0.9"/>
<path d="M200.68 494.5V499.1M200.68 499.1V503.7M197.08 494.5H204.28M197.08 503.7H204.28" stroke="#0f0" stroke-width="0.9"/>
<path d="M212.04 493.4V498.3M212.04 498.3V503.2M208.44 493.4H215.64M208.44 503.2H215.64" stroke="#0f0" stroke-width="0.9"/>
<path d="M223.39 491.1V496M223.39 496V500.9M219.79 491.1H226.99M219.79 500.9H226.99" stroke="#0f0" stroke-width="0.9"/>
<path d="M234.75 490.9V496M234.75 496V501.1M231.15 490.9H238.35M231.15 501.1H238.35" stroke="#0f0" stroke-width="0.9"/>
<path d="M246.11 494.3V499.8M246.11 499.8V505.3M242.51 494.3H249.71M242.51 505.3H249.71" stroke="#0f0" stroke-width="0.9"/>
<path d="M257.46 498.8V505.4M257.46 505.4V512M253.86 498.8H261.06M253.86 512H261.06" stroke="#0f0" stroke-width="0.9"/>
<path d="M268.82 502.8V510.8M268.82 510.8V518.8M265.22 502.8H272.42M265.22 518.8H272.42" stroke="#0f0" stroke-width="0.9"/>
<path d="M280.17 503.7V513.4M280.17 513.4V523.1M276.57 503.7H283.77M276.57 523.1H283.77" stroke="#0f0" stroke-width="0.9"/>
<path d="M291.53 505.4V516M291.53 516V526.6M287.93 505.4H295.13M287.93 526.6H295.13" stroke="#0f0" stroke-width="0.9"/>
<path d="M302.89 502.9V519.4M302.89 519.4V535.9M299.29 502.9H306.49M299.29 535.9H306.49" stroke="#0f0" stroke-width="0.9"/>
<path d="M140.2 534.81L147.6 534.81L143.9 527.41Z" fill="#0f0" stroke="none"/>
<path d="M151.56 521.61L158.96 521.61L155.26 514.21Z" fill="#0f0" stroke="none"/>
<path d="M162.91 511.61L170.31 511.61L166.61 504.21Z" fill="#0f0" stroke="none"/>
<path d="M174.27 504.81L181.67 504.81L177.97 497.41Z" fill="#0f0" stroke="none"/>
<path d="M185.63 502.71L193.03 502.71L189.33 495.31Z" fill="#0f0" stroke="none"/>
<path d="M196.98 502.21L204.38 502.21L200.68 494.81Z" fill="#0f0" stroke="none"/>
<path d="M208.34 501.41L215.74 501.41L212.04 494.01Z" fill="#0f0" stroke="none"/>
<path d="M219.69 499.11L227.09 499.11L223.39 491.71Z" fill="#0f0" stroke="none"/>
<path d="M231.05 499.11L238.45 499.11L234.75 491.71Z" fill="#0f0" stroke="none"/>
<path d="M242.41 502.91L249.81 502.91L246.11 495.51Z" fill="#0f0" stroke="none"/>
<path d="M253.76 508.51L261.16 508.51L257.46 501.11Z" fill="#0f0" stroke="none"/>
<path d="M265.12 513.91L272.52 513.91L268.82 506.51Z" fill="#0f0" stroke="none"/>
<path d="M276.47 516.51L283.87 516.51L280.17 509.11Z" fill="#0f0" stroke="none"/>
<path d="M287.83 519.11L295.23 519.11L291.53 511.71Z" fill="#0f0" stroke="none"/>
<path d="M299.19 522.51L306.59 522.51L302.89 515.11Z" fill="#0f0" stroke="none"/>
<path d="M92.8 702.7L94.3 700.4L95.8 698.15L97.3 695.95L98.8 693.79L100.3 691.68L101.8 689.61L103.3 687.59L104.8 685.61L106.3 683.67L107.8 681.77L109.3 679.91L110.8 678.09L112.3 676.31L113.8 674.57L115.3 672.87L116.8 671.2L118.3 669.57L119.8 667.98L121.3 666.41L122.8 664.88L124.3 663.39L125.8 661.92L127.3 660.49L128.8 659.08L130.3 657.71L131.8 656.36L133.3 655.04L134.8 653.74L136.3 652.47L137.8 651.22L139.3 650L140.8 648.79L142.3 647.61L143.8 646.45L145.3 645.3L146.8 644.18L148.3 643.07L149.8 641.97L151.3 640.89L152.8 639.82L154.3 638.76L155.8 637.72L157.3 636.68L158.8 635.65L160.3 634.63L161.8 633.62L163.3 632.61L164.8 631.6L166.3 630.59L167.8 629.59L169.3 628.58L170.8 627.58L172.3 626.57L173.8 625.55L175.3 624.53L176.8 623.51L178.3 622.47L179.8 621.43L181.3 620.37L182.8 619.3L184.3 618.22L185.8 617.12L187.3 616L188.8 614.87L189.3 614.49" stroke="#000" stroke-width="1" stroke-linejoin="round"/>
<path d="M92.8 702.7L94.3 697.84L95.8 693.03L97.3 688.3L98.8 683.63L100.3 679.04L101.8 674.51L103.3 670.06L104.8 665.68L106.3 661.38L107.8 657.16L109.3 653.01L110.8 648.94L112.3 644.96L113.8 641.05L115.3 637.23L116.8 633.49L118.3 629.83L119.8 626.25L121.3 622.76L122.8 619.35L124.3 616.03L125.8 612.79L127.3 609.63L128.8 606.56L130.3 603.57L131.8 600.66L133.3 597.83L134.8 595.08L136.3 592.42L137.8 589.83L139.3 587.32L140.8 584.89L142.3 582.53L143.8 580.25L145.3 578.04L146.8 575.9L148.3 573.83L149.8 571.83L151.3 569.9L152.8 568.03L154.3 566.22L155.8 564.47L157.3 562.78L158.8 561.14L160.3 559.56L161.8 558.03L163.3 556.54L164.8 555.09L166.3 553.69L167.8 552.33L169.3 551L170.8 549.7L172.3 548.43L173.8 547.18L175.3 545.95L176.8 544.74L178.3 543.55L179.8 542.36L181.3 541.18L182.8 540L184.3 538.82L185.8 537.62L187.3 536.42L188.8 535.2L189.3 534.79" stroke="#f00" stroke-width="1" stroke-linejoin="round"/>
<path d="M92.8 702.7L94.3 693.95L95.8 685.49L97.3 677.33L98.8 669.49L100.3 661.98L101.8 654.79L103.3 647.92L104.8 641.37L106.3 635.11L107.8 629.13L109.3 623.41L110.8 617.93L112.3 612.68L113.8 607.63L115.3 602.77L116.8 598.07L118.3 593.53L119.8 589.13L121.3 584.86L122.8 580.7L124.3 576.66L125.8 572.71L127.3 568.87L128.8 565.12L130.3 561.46L131.8 557.91L133.3 554.45L134.8 551.09L136.3 547.84L137.8 544.7L139.3 541.68L140.8 538.77L142.3 536L143.8 533.35L145.3 530.84L146.8 528.47L148.3 526.23L149.8 524.14L151.3 522.19L152.8 520.38L154.3 518.7L155.8 517.14L157.3 515.72L158.8 514.4L160.3 513.18L161.8 512.06L163.3 511.01L164.8 510.03L166.3 509.1L167.8 508.21L169.3 507.34L170.8 506.48L172.3 505.63L173.8 504.78L175.3 503.92L176.8 503.06L178.3 502.21L179.8 501.39L181.3 500.62L182.8 499.93L184.3 499.39L185.8 499.04L187.3 498.98L188.8 499.29L189.3 499.5" stroke="#0f0" stroke-width="1" stroke-linejoin="round"/>
<path d="M92.8 702.7L94.3 690.74L95.8 679.51L97.3 668.96L98.8 659.02L100.3 649.65L101.8 640.8L103.3 632.42L104.8 624.48L106.3 616.92L107.8 609.72L109.3 602.85L110.8 596.27L112.3 589.95L113.8 583.88L115.3 578.03L116.8 572.38L118.3 566.91L119.8 561.61L121.3 556.46L122.8 551.45L124.3 546.58L125.8 541.83L127.3 537.2L128.8 532.69L130.3 528.29L131.8 523.99L133.3 519.81L134.8 515.73L136.3 511.77L137.8 507.91L139.3 504.18L140.8 500.56L142.3 497.06L143.8 493.7L145.3 490.47L146.8 487.37L148.3 484.43L149.8 481.63L151.3 478.98L152.8 476.5L154.3 474.19L155.8 472.04L157.3 470.07L158.8 468.28L160.3 466.67L161.8 465.25L163.3 464.01L164.8 462.95L166.3 462.08L167.8 461.39L169.3 460.88L170.8 460.54L172.3 460.37L173.8 460.36L175.3 460.5L176.8 460.77L178.3 461.17L179.8 461.67L181.3 462.27L182.8 462.93L184.3 463.64L185.8 464.37L187.3 465.09L188.8 465.78L189.3 465.99" stroke="#f0f" stroke-width="1" stroke-linejoin="round"/>
</g>
<path d="M121.19 714.4v-5M121.19 430.2v5M149.58 714.4v-9.5M149.58 430.2v9.5M177.97 714.4v-5M177.97 430.2v5M206.36 714.4v-9.5M206.36 430.2v9.5M234.75 714.4v-5M234.75 430.2v5M263.14 714.4v-9.5M263.14 430.2v9.5M291.53 714.4v-5M291.53 430.2v5M319.92 714.4v-9.5M319.92 430.2v9.5M348.31 714.4v-5M348.31 430.2v5M92.8 706.1h9.3M376.7 706.1h-9.3M92.8 685.23h4.8M376.7 685.23h-4.8M92.8 664.35h9.3M376.7 664.35h-9.3M92.8 643.48h4.8M376.7 643.48h-4.8M92.8 622.6h9.3M376.7 622.6h-9.3M92.8 601.73h4.8M376.7 601.73h-4.8M92.8 580.85h9.3M376.7 580.85h-9.3M92.8 559.98h4.8M376.7 559.98h-4.8M92.8 539.1h9.3M376.7 539.1h-9.3M92.8 518.23h4.8M376.7 518.23h-4.8M92.8 497.35h9.3M376.7 497.35h-9.3M92.8 476.48h4.8M376.7 476.48h-4.8M92.8 455.6h9.3M376.7 455.6h-9.3M92.8 434.73h4.8M376.7 434.73h-4.8" stroke="#000"/>
<rect x="92.8" y="430.2" width="283.9" height="284.2" stroke="#000" stroke-width="1.2"/>
<text x="370.3" y="464.2" text-anchor="end" fill="#000" stroke="none" font-size="18.4">0.8A GeV</text>
<g transform="translate(0 284.2)">
<ellipse cx="313.4" cy="338.9" rx="7.6" ry="6.9" fill="#000" stroke="none"/>
<ellipse cx="312.7" cy="338.35" rx="6.45" ry="5.9" fill="#fff" stroke="none"/>
<rect x="306.45" y="355.45" width="10.4" height="10.4" stroke="#f00" stroke-width="0.9"/>
<path d="M316.4 356.4H318.9V367.6H307.3V365.3H316.4Z" fill="#f00" stroke="none"/>
<path d="M306 389.9L321 389.9L313.5 377.5Z" fill="#0f0" stroke="none"/>
<path d="M312.2 400.2V412.6M306 406.4H318.4M307.85 402.05L316.55 410.75M307.85 410.75L316.55 402.05" stroke="#f0f" stroke-width="0.95"/>
<g stroke="none" font-size="19">
<text x="326.2" y="345.2" fill="#000">p</text>
<text x="324.0" y="367.5" fill="#f00" font-size="19.3">d</text>
<text x="327.2" y="389.9" fill="#0f0" font-size="18">A=3</text>
<text transform="translate(324.6 412.7) scale(1.16 1)" x="0" y="0" fill="#f0f" font-size="19">α</text>
</g></g>
<g fill="#000" stroke="none" text-anchor="end">
<text x="86" y="712.5">0.0</text>
<text x="86" y="670.75">0.1</text>
<text x="86" y="629">0.2</text>
<text x="86" y="587.25">0.3</text>
<text x="86" y="545.5">0.4</text>
<text x="86" y="503.75">0.5</text>
<text x="86" y="462">0.6</text>
</g>
<g fill="#000" stroke="none" transform="translate(42.9 581.2) rotate(-90)"><text x="0" y="0" font-size="19">v</text><text x="10" y="6" font-size="13.5">1</text></g>
<g>
<path d="M552.72 566.8V567.05M552.72 574.55V574.8M549.12 566.8H556.32M549.12 574.8H556.32" stroke="#000" stroke-width="0.9"/>
<path d="M564.07 566.8V567.05M564.07 574.55V574.8M560.47 566.8H567.67M560.47 574.8H567.67" stroke="#000" stroke-width="0.9"/>
<path d="M575.43 566.5V566.75M575.43 574.25V574.5M571.83 566.5H579.03M571.83 574.5H579.03" stroke="#000" stroke-width="0.9"/>
<path d="M586.79 565.4V565.65M586.79 573.15V573.4M583.19 565.4H590.39M583.19 573.4H590.39" stroke="#000" stroke-width="0.9"/>
<path d="M598.14 563.9V564.15M598.14 571.65V571.9M594.54 563.9H601.74M594.54 571.9H601.74" stroke="#000" stroke-width="0.9"/>
<path d="M609.5 561.2V561.95M609.5 569.45V570.2M605.9 561.2H613.1M605.9 570.2H613.1" stroke="#000" stroke-width="0.9"/>
<path d="M620.85 559.5V560.25M620.85 567.75V568.5M617.25 559.5H624.45M617.25 568.5H624.45" stroke="#000" stroke-width="0.9"/>
<path d="M632.21 553.8V555.05M632.21 562.55V563.8M628.61 553.8H635.81M628.61 563.8H635.81" stroke="#000" stroke-width="0.9"/>
<path d="M643.57 547.7V549.95M643.57 557.45V559.7M639.97 547.7H647.17M639.97 559.7H647.17" stroke="#000" stroke-width="0.9"/>
<path d="M654.92 539V542.75M654.92 550.25V554M651.32 539H658.52M651.32 554H658.52" stroke="#000" stroke-width="0.9"/>
<circle cx="439.16" cy="636.5" r="3.25" stroke="#000" stroke-width="0.9"/>
<circle cx="450.51" cy="627.8" r="3.25" stroke="#000" stroke-width="0.9"/>
<circle cx="461.87" cy="619.1" r="3.25" stroke="#000" stroke-width="0.9"/>
<circle cx="473.23" cy="610.5" r="3.25" stroke="#000" stroke-width="0.9"/>
<circle cx="484.58" cy="602.8" r="3.25" stroke="#000" stroke-width="0.9"/>
<circle cx="495.94" cy="595.5" r="3.25" stroke="#000" stroke-width="0.9"/>
<circle cx="507.29" cy="588.3" r="3.25" stroke="#000" stroke-width="0.9"/>
<circle cx="518.65" cy="581.4" r="3.25" stroke="#000" stroke-width="0.9"/>
<circle cx="530.01" cy="576.2" r="3.25" stroke="#000" stroke-width="0.9"/>
<circle cx="541.36" cy="572.6" r="3.25" stroke="#000" stroke-width="0.9"/>
<circle cx="552.72" cy="570.8" r="3.25" stroke="#000" stroke-width="0.9"/>
<circle cx="564.07" cy="570.8" r="3.25" stroke="#000" stroke-width="0.9"/>
<circle cx="575.43" cy="570.5" r="3.25" stroke="#000" stroke-width="0.9"/>
<circle cx="586.79" cy="569.4" r="3.25" stroke="#000" stroke-width="0.9"/>
<circle cx="598.14" cy="567.9" r="3.25" stroke="#000" stroke-width="0.9"/>
<circle cx="609.5" cy="565.7" r="3.25" stroke="#000" stroke-width="0.9"/>
<circle cx="620.85" cy="564" r="3.25" stroke="#000" stroke-width="0.9"/>
<circle cx="632.21" cy="558.8" r="3.25" stroke="#000" stroke-width="0.9"/>
<circle cx="643.57" cy="553.7" r="3.25" stroke="#000" stroke-width="0.9"/>
<circle cx="654.92" cy="546.5" r="3.25" stroke="#000" stroke-width="0.9"/>
<path d="M495.94 517.7V517.9M495.94 525.5V525.7M492.34 517.7H499.54M492.34 525.7H499.54" stroke="#f00" stroke-width="0.9"/>
<path d="M507.29 513.84V514.2M507.29 521.8V522.16M503.69 513.84H510.89M503.69 522.16H510.89" stroke="#f00" stroke-width="0.9"/>
<path d="M518.65 511.46V511.9M518.65 519.5V519.94M515.05 511.46H522.25M515.05 519.94H522.25" stroke="#f00" stroke-width="0.9"/>
<path d="M530.01 510.88V511.4M530.01 519V519.52M526.41 510.88H533.61M526.41 519.52H533.61" stroke="#f00" stroke-width="0.9"/>
<path d="M541.36 511.02V511.7M541.36 519.3V519.98M537.76 511.02H544.96M537.76 519.98H544.96" stroke="#f00" stroke-width="0.9"/>
<path d="M552.72 510.6V511.3M552.72 518.9V519.6M549.12 510.6H556.32M549.12 519.6H556.32" stroke="#f00" stroke-width="0.9"/>
<path d="M564.07 508.8V511M564.07 518.6V520.8M560.47 508.8H567.67M560.47 520.8H567.67" stroke="#f00" stroke-width="0.9"/>
<path d="M575.43 510.4V513.9M575.43 521.5V525M571.83 510.4H579.03M571.83 525H579.03" stroke="#f00" stroke-width="0.9"/>
<path d="M586.79 515.2V520.2M586.79 527.8V532.8M583.19 515.2H590.39M583.19 532.8H590.39" stroke="#f00" stroke-width="0.9"/>
<path d="M598.14 522.5V529.8M598.14 537.4V544.7M594.54 522.5H601.74M594.54 544.7H601.74" stroke="#f00" stroke-width="0.9"/>
<path d="M609.5 520.5V530.7M609.5 538.3V548.5M605.9 520.5H613.1M605.9 548.5H613.1" stroke="#f00" stroke-width="0.9"/>
<rect x="424.5" y="568.3" width="6.6" height="6.6" stroke="#f00" stroke-width="0.9"/>
<rect x="435.86" y="555.2" width="6.6" height="6.6" stroke="#f00" stroke-width="0.9"/>
<rect x="447.21" y="544.4" width="6.6" height="6.6" stroke="#f00" stroke-width="0.9"/>
<rect x="458.57" y="535.3" width="6.6" height="6.6" stroke="#f00" stroke-width="0.9"/>
<rect x="469.93" y="528.4" width="6.6" height="6.6" stroke="#f00" stroke-width="0.9"/>
<rect x="481.28" y="522.4" width="6.6" height="6.6" stroke="#f00" stroke-width="0.9"/>
<rect x="492.64" y="518.4" width="6.6" height="6.6" stroke="#f00" stroke-width="0.9"/>
<rect x="503.99" y="514.7" width="6.6" height="6.6" stroke="#f00" stroke-width="0.9"/>
<rect x="515.35" y="512.4" width="6.6" height="6.6" stroke="#f00" stroke-width="0.9"/>
<rect x="526.71" y="511.9" width="6.6" height="6.6" stroke="#f00" stroke-width="0.9"/>
<rect x="538.06" y="512.2" width="6.6" height="6.6" stroke="#f00" stroke-width="0.9"/>
<rect x="549.42" y="511.8" width="6.6" height="6.6" stroke="#f00" stroke-width="0.9"/>
<rect x="560.77" y="511.5" width="6.6" height="6.6" stroke="#f00" stroke-width="0.9"/>
<rect x="572.13" y="514.4" width="6.6" height="6.6" stroke="#f00" stroke-width="0.9"/>
<rect x="583.49" y="520.7" width="6.6" height="6.6" stroke="#f00" stroke-width="0.9"/>
<rect x="594.84" y="530.3" width="6.6" height="6.6" stroke="#f00" stroke-width="0.9"/>
<rect x="606.2" y="531.2" width="6.6" height="6.6" stroke="#f00" stroke-width="0.9"/>
<path d="M427.8 461.7V470.5M427.8 470.5V479.3M424.2 461.7H431.4M424.2 479.3H431.4" stroke="#f0f" stroke-width="0.9"/>
<path d="M439.16 457.7V466.6M439.16 466.6V475.5M435.56 457.7H442.76M435.56 475.5H442.76" stroke="#f0f" stroke-width="0.9"/>
<path d="M450.51 451.7V460.6M450.51 460.6V469.5M446.91 451.7H454.11M446.91 469.5H454.11" stroke="#f0f" stroke-width="0.9"/>
<path d="M461.87 453V461.8M461.87 461.8V470.6M458.27 453H465.47M458.27 470.6H465.47" stroke="#f0f" stroke-width="0.9"/>
<path d="M473.23 455.8V464.8M473.23 464.8V473.8M469.63 455.8H476.83M469.63 473.8H476.83" stroke="#f0f" stroke-width="0.9"/>
<path d="M484.58 459.1V468.3M484.58 468.3V477.5M480.98 459.1H488.18M480.98 477.5H488.18" stroke="#f0f" stroke-width="0.9"/>
<path d="M495.94 467.6V477.2M495.94 477.2V486.8M492.34 467.6H499.54M492.34 486.8H499.54" stroke="#f0f" stroke-width="0.9"/>
<path d="M507.29 478.5V488.8M507.29 488.8V499.1M503.69 478.5H510.89M503.69 499.1H510.89" stroke="#f0f" stroke-width="0.9"/>
<path d="M518.65 485.5V497.9M518.65 497.9V510.3M515.05 485.5H522.25M515.05 510.3H522.25" stroke="#f0f" stroke-width="0.9"/>
<path d="M530.01 490.3V505.8M530.01 505.8V521.3M526.41 490.3H533.61M526.41 521.3H533.61" stroke="#f0f" stroke-width="0.9"/>
<path d="M424.2 470.5H431.4M427.8 466.9V474.1M425.21 467.91L430.39 473.09M425.21 473.09L430.39 467.91" stroke="#f0f" stroke-width="1"/>
<path d="M435.56 466.6H442.76M439.16 463V470.2M436.57 464.01L441.75 469.19M436.57 469.19L441.75 464.01" stroke="#f0f" stroke-width="1"/>
<path d="M446.91 460.6H454.11M450.51 457V464.2M447.92 458.01L453.11 463.19M447.92 463.19L453.11 458.01" stroke="#f0f" stroke-width="1"/>
<path d="M458.27 461.8H465.47M461.87 458.2V465.4M459.28 459.21L464.46 464.39M459.28 464.39L464.46 459.21" stroke="#f0f" stroke-width="1"/>
<path d="M469.63 464.8H476.83M473.23 461.2V468.4M470.63 462.21L475.82 467.39M470.63 467.39L475.82 462.21" stroke="#f0f" stroke-width="1"/>
<path d="M480.98 468.3H488.18M484.58 464.7V471.9M481.99 465.71L487.17 470.89M481.99 470.89L487.17 465.71" stroke="#f0f" stroke-width="1"/>
<path d="M492.34 477.2H499.54M495.94 473.6V480.8M493.35 474.61L498.53 479.79M493.35 479.79L498.53 474.61" stroke="#f0f" stroke-width="1"/>
<path d="M503.69 488.8H510.89M507.29 485.2V492.4M504.7 486.21L509.89 491.39M504.7 491.39L509.89 486.21" stroke="#f0f" stroke-width="1"/>
<path d="M515.05 497.9H522.25M518.65 494.3V501.5M516.06 495.31L521.24 500.49M516.06 500.49L521.24 495.31" stroke="#f0f" stroke-width="1"/>
<path d="M526.41 505.8H533.61M530.01 502.2V509.4M527.41 503.21L532.6 508.39M527.41 508.39L532.6 503.21" stroke="#f0f" stroke-width="1"/>
<path d="M427.8 510.7V515.4M427.8 515.4V520.1M424.2 510.7H431.4M424.2 520.1H431.4" stroke="#0f0" stroke-width="0.9"/>
<path d="M439.16 501.5V506M439.16 506V510.5M435.56 501.5H442.76M435.56 510.5H442.76" stroke="#0f0" stroke-width="0.9"/>
<path d="M450.51 495.2V500M450.51 500V504.8M446.91 495.2H454.11M446.91 504.8H454.11" stroke="#0f0" stroke-width="0.9"/>
<path d="M461.87 492.4V496.9M461.87 496.9V501.4M458.27 492.4H465.47M458.27 501.4H465.47" stroke="#0f0" stroke-width="0.9"/>
<path d="M473.23 489.8V494.5M473.23 494.5V499.2M469.63 489.8H476.83M469.63 499.2H476.83" stroke="#0f0" stroke-width="0.9"/>
<path d="M484.58 489V494M484.58 494V499M480.98 489H488.18M480.98 499H488.18" stroke="#0f0" stroke-width="0.9"/>
<path d="M495.94 489.8V494.8M495.94 494.8V499.8M492.34 489.8H499.54M492.34 499.8H499.54" stroke="#0f0" stroke-width="0.9"/>
<path d="M507.29 490.4V495.7M507.29 495.7V501M503.69 490.4H510.89M503.69 501H510.89" stroke="#0f0" stroke-width="0.9"/>
<path d="M518.65 494.4V500M518.65 500V505.6M515.05 494.4H522.25M515.05 505.6H522.25" stroke="#0f0" stroke-width="0.9"/>
<path d="M530.01 500.3V507M530.01 507V513.7M526.41 500.3H533.61M526.41 513.7H533.61" stroke="#0f0" stroke-width="0.9"/>
<path d="M541.36 505.7V512.9M541.36 512.9V520.1M537.76 505.7H544.96M537.76 520.1H544.96" stroke="#0f0" stroke-width="0.9"/>
<path d="M552.72 507.3V516M552.72 516V524.7M549.12 507.3H556.32M549.12 524.7H556.32" stroke="#0f0" stroke-width="0.9"/>
<path d="M564.07 520.6V530M564.07 530V539.4M560.47 520.6H567.67M560.47 539.4H567.67" stroke="#0f0" stroke-width="0.9"/>
<path d="M424.1 518.51L431.5 518.51L427.8 511.11Z" fill="#0f0" stroke="none"/>
<path d="M435.46 509.11L442.86 509.11L439.16 501.71Z" fill="#0f0" stroke="none"/>
<path d="M446.81 503.11L454.21 503.11L450.51 495.71Z" fill="#0f0" stroke="none"/>
<path d="M458.17 500.01L465.57 500.01L461.87 492.61Z" fill="#0f0" stroke="none"/>
<path d="M469.53 497.61L476.93 497.61L473.23 490.21Z" fill="#0f0" stroke="none"/>
<path d="M480.88 497.11L488.28 497.11L484.58 489.71Z" fill="#0f0" stroke="none"/>
<path d="M492.24 497.91L499.64 497.91L495.94 490.51Z" fill="#0f0" stroke="none"/>
<path d="M503.59 498.81L510.99 498.81L507.29 491.41Z" fill="#0f0" stroke="none"/>
<path d="M514.95 503.11L522.35 503.11L518.65 495.71Z" fill="#0f0" stroke="none"/>
<path d="M526.31 510.11L533.71 510.11L530.01 502.71Z" fill="#0f0" stroke="none"/>
<path d="M537.66 516.01L545.06 516.01L541.36 508.61Z" fill="#0f0" stroke="none"/>
<path d="M549.02 519.11L556.42 519.11L552.72 511.71Z" fill="#0f0" stroke="none"/>
<path d="M560.37 533.11L567.77 533.11L564.07 525.71Z" fill="#0f0" stroke="none"/>
<path d="M376.7 702.7L378.2 701.05L379.7 699.39L381.2 697.73L382.7 696.05L384.2 694.36L385.7 692.67L387.2 690.97L388.7 689.27L390.2 687.56L391.7 685.86L393.2 684.15L394.7 682.45L396.2 680.75L397.7 679.06L399.2 677.37L400.7 675.68L402.2 674.01L403.7 672.34L405.2 670.68L406.7 669.03L408.2 667.39L409.7 665.76L411.2 664.14L412.7 662.54L414.2 660.95L415.7 659.37L417.2 657.81L418.7 656.26L420.2 654.73L421.7 653.22L423.2 651.72L424.7 650.24L426.2 648.77L427.7 647.32L429.2 645.89L430.7 644.48L432.2 643.08L433.7 641.7L435.2 640.34L436.7 639L438.2 637.68L439.7 636.37L441.2 635.08L442.7 633.8L444.2 632.55L445.7 631.31L447.2 630.08L448.7 628.88L450.2 627.68L451.7 626.51L453.2 625.34L454.7 624.19L456.2 623.06L457.7 621.93L459.2 620.82L460.7 619.72L462.2 618.63L463.7 617.55L465.2 616.48L466.7 615.41L468.2 614.36L469.7 613.31L471.2 612.26L472.7 611.21L474.2 610.17L475.7 609.13L477.2 608.09L478.7 607.05L480.2 606.01L481.7 604.96L483.2 603.91L484.7 602.85L486.2 601.78L487.7 600.7L488 600.49" stroke="#000" stroke-width="1" stroke-linejoin="round"/>
<path d="M376.7 702.7L378.2 697.87L379.7 693.02L381.2 688.16L382.7 683.31L384.2 678.48L385.7 673.67L387.2 668.9L388.7 664.18L390.2 659.51L391.7 654.9L393.2 650.36L394.7 645.89L396.2 641.5L397.7 637.2L399.2 632.99L400.7 628.88L402.2 624.86L403.7 620.94L405.2 617.12L406.7 613.41L408.2 609.8L409.7 606.31L411.2 602.92L412.7 599.63L414.2 596.46L415.7 593.39L417.2 590.43L418.7 587.58L420.2 584.83L421.7 582.18L423.2 579.63L424.7 577.18L426.2 574.82L427.7 572.56L429.2 570.39L430.7 568.3L432.2 566.3L433.7 564.38L435.2 562.54L436.7 560.77L438.2 559.07L439.7 557.43L441.2 555.86L442.7 554.35L444.2 552.9L445.7 551.5L447.2 550.15L448.7 548.84L450.2 547.57L451.7 546.35L453.2 545.16L454.7 544.01L456.2 542.88L457.7 541.79L459.2 540.72L460.7 539.67L462.2 538.65L463.7 537.64L465.2 536.66L466.7 535.7L468.2 534.75L469.7 533.82L471.2 532.91L472.7 532.02L474.2 531.15L475.7 530.3L477.2 529.47L478.7 528.67L480.2 527.9L481.7 527.16L483.2 526.45L484.7 525.79L486.2 525.17L487.7 524.6L488 524.49" stroke="#f00" stroke-width="1" stroke-linejoin="round"/>
<path d="M376.7 702.7L378.2 692.53L379.7 682.96L381.2 673.95L382.7 665.43L384.2 657.35L385.7 649.67L387.2 642.36L388.7 635.36L390.2 628.67L391.7 622.24L393.2 616.06L394.7 610.1L396.2 604.35L397.7 598.8L399.2 593.43L400.7 588.23L402.2 583.19L403.7 578.32L405.2 573.59L406.7 569.02L408.2 564.6L409.7 560.32L411.2 556.19L412.7 552.2L414.2 548.36L415.7 544.67L417.2 541.13L418.7 537.73L420.2 534.48L421.7 531.39L423.2 528.44L424.7 525.65L426.2 523L427.7 520.51L429.2 518.16L430.7 515.96L432.2 513.91L433.7 512L435.2 510.23L436.7 508.6L438.2 507.1L439.7 505.73L441.2 504.48L442.7 503.34L444.2 502.32L445.7 501.4L447.2 500.58L448.7 499.85L450.2 499.21L451.7 498.64L453.2 498.13L454.7 497.69L456.2 497.3L457.7 496.96L459.2 496.65L460.7 496.38L462.2 496.13L463.7 495.91L465.2 495.69L466.7 495.49L468.2 495.3L469.7 495.11L471.2 494.93L472.7 494.75L474.2 494.59L475.7 494.43L477.2 494.29L478.7 494.17L480.2 494.08L481.7 494.04L483.2 494.06L484.7 494.15L486.2 494.34L487.7 494.64L488 494.71" stroke="#0f0" stroke-width="1" stroke-linejoin="round"/>
<path d="M376.7 702.7L378.2 690.61L379.7 679.11L381.2 668.15L382.7 657.69L384.2 647.69L385.7 638.12L387.2 628.94L388.7 620.14L390.2 611.67L391.7 603.52L393.2 595.67L394.7 588.11L396.2 580.81L397.7 573.77L399.2 566.98L400.7 560.42L402.2 554.08L403.7 547.97L405.2 542.08L406.7 536.39L408.2 530.92L409.7 525.65L411.2 520.59L412.7 515.73L414.2 511.07L415.7 506.62L417.2 502.37L418.7 498.32L420.2 494.47L421.7 490.82L423.2 487.38L424.7 484.14L426.2 481.09L427.7 478.25L429.2 475.6L430.7 473.15L432.2 470.89L433.7 468.83L435.2 466.95L436.7 465.25L438.2 463.74L439.7 462.4L441.2 461.22L442.7 460.22L444.2 459.37L445.7 458.67L447.2 458.11L448.7 457.7L450.2 457.41L451.7 457.24L453.2 457.19L454.7 457.25L456.2 457.4L457.7 457.64L459.2 457.97L460.7 458.37L462.2 458.84L463.7 459.37L465.2 459.95L466.7 460.59L468.2 461.27L469.7 461.99L471.2 462.75L472.7 463.56L474.2 464.4L475.7 465.28L477.2 466.21L478.7 467.18L480.2 468.22L481.7 469.33L483.2 470.52L484.7 471.81L486.2 473.22L487.7 474.77L488 475.1" stroke="#f0f" stroke-width="1" stroke-linejoin="round"/>
</g>
<path d="M405.09 714.4v-5M405.09 430.2v5M433.48 714.4v-9.5M433.48 430.2v9.5M461.87 714.4v-5M461.87 430.2v5M490.26 714.4v-9.5M490.26 430.2v9.5M518.65 714.4v-5M518.65 430.2v5M547.04 714.4v-9.5M547.04 430.2v9.5M575.43 714.4v-5M575.43 430.2v5M603.82 714.4v-9.5M603.82 430.2v9.5M632.21 714.4v-5M632.21 430.2v5M376.7 706.1h9.3M660.6 706.1h-9.3M376.7 685.23h4.8M660.6 685.23h-4.8M376.7 664.35h9.3M660.6 664.35h-9.3M376.7 643.48h4.8M660.6 643.48h-4.8M376.7 622.6h9.3M660.6 622.6h-9.3M376.7 601.73h4.8M660.6 601.73h-4.8M376.7 580.85h9.3M660.6 580.85h-9.3M376.7 559.98h4.8M660.6 559.98h-4.8M376.7 539.1h9.3M660.6 539.1h-9.3M376.7 518.23h4.8M660.6 518.23h-4.8M376.7 497.35h9.3M660.6 497.35h-9.3M376.7 476.48h4.8M660.6 476.48h-4.8M376.7 455.6h9.3M660.6 455.6h-9.3M376.7 434.73h4.8M660.6 434.73h-4.8" stroke="#000"/>
<rect x="376.7" y="430.2" width="283.9" height="284.2" stroke="#000" stroke-width="1.2"/>
<text x="654.2" y="464.2" text-anchor="end" fill="#000" stroke="none" font-size="18.4">1.0A GeV</text>
<g transform="translate(283.9 284.2)">
<ellipse cx="313.4" cy="338.9" rx="7.6" ry="6.9" fill="#000" stroke="none"/>
<ellipse cx="312.7" cy="338.35" rx="6.45" ry="5.9" fill="#fff" stroke="none"/>
<rect x="306.45" y="355.45" width="10.4" height="10.4" stroke="#f00" stroke-width="0.9"/>
<path d="M316.4 356.4H318.9V367.6H307.3V365.3H316.4Z" fill="#f00" stroke="none"/>
<path d="M306 389.9L321 389.9L313.5 377.5Z" fill="#0f0" stroke="none"/>
<path d="M312.2 400.2V412.6M306 406.4H318.4M307.85 402.05L316.55 410.75M307.85 410.75L316.55 402.05" stroke="#f0f" stroke-width="0.95"/>
<g stroke="none" font-size="19">
<text x="326.2" y="345.2" fill="#000">p</text>
<text x="324.0" y="367.5" fill="#f00" font-size="19.3">d</text>
<text x="327.2" y="389.9" fill="#0f0" font-size="18">A=3</text>
<text transform="translate(324.6 412.7) scale(1.16 1)" x="0" y="0" fill="#f0f" font-size="19">α</text>
</g></g>
<g>
<path d="M268.82 849.4V849.65M268.82 857.15V857.4M265.22 849.4H272.42M265.22 857.4H272.42" stroke="#000" stroke-width="0.9"/>
<path d="M280.17 847.2V847.45M280.17 854.95V855.2M276.57 847.2H283.77M276.57 855.2H283.77" stroke="#000" stroke-width="0.9"/>
<path d="M291.53 845.1V845.35M291.53 852.85V853.1M287.93 845.1H295.13M287.93 853.1H295.13" stroke="#000" stroke-width="0.9"/>
<path d="M302.89 843.9V844.15M302.89 851.65V851.9M299.29 843.9H306.49M299.29 851.9H306.49" stroke="#000" stroke-width="0.9"/>
<path d="M314.24 842V842.25M314.24 849.75V850M310.64 842H317.84M310.64 850H317.84" stroke="#000" stroke-width="0.9"/>
<path d="M325.6 838.6V839.35M325.6 846.85V847.6M322 838.6H329.2M322 847.6H329.2" stroke="#000" stroke-width="0.9"/>
<path d="M336.95 834V834.75M336.95 842.25V843M333.35 834H340.55M333.35 843H340.55" stroke="#000" stroke-width="0.9"/>
<path d="M348.31 829.5V830.75M348.31 838.25V839.5M344.71 829.5H351.91M344.71 839.5H351.91" stroke="#000" stroke-width="0.9"/>
<path d="M359.67 822.9V825.15M359.67 832.65V834.9M356.07 822.9H363.27M356.07 834.9H363.27" stroke="#000" stroke-width="0.9"/>
<path d="M371.02 815.2V817.95M371.02 825.45V828.2M367.42 815.2H374.62M367.42 828.2H374.62" stroke="#000" stroke-width="0.9"/>
<circle cx="143.9" cy="926.4" r="3.25" stroke="#000" stroke-width="0.9"/>
<circle cx="155.26" cy="915.3" r="3.25" stroke="#000" stroke-width="0.9"/>
<circle cx="166.61" cy="905.6" r="3.25" stroke="#000" stroke-width="0.9"/>
<circle cx="177.97" cy="895.8" r="3.25" stroke="#000" stroke-width="0.9"/>
<circle cx="189.33" cy="886.8" r="3.25" stroke="#000" stroke-width="0.9"/>
<circle cx="200.68" cy="878.5" r="3.25" stroke="#000" stroke-width="0.9"/>
<circle cx="212.04" cy="870.6" r="3.25" stroke="#000" stroke-width="0.9"/>
<circle cx="223.39" cy="865" r="3.25" stroke="#000" stroke-width="0.9"/>
<circle cx="234.75" cy="860.8" r="3.25" stroke="#000" stroke-width="0.9"/>
<circle cx="246.11" cy="858.4" r="3.25" stroke="#000" stroke-width="0.9"/>
<circle cx="257.46" cy="856" r="3.25" stroke="#000" stroke-width="0.9"/>
<circle cx="268.82" cy="853.4" r="3.25" stroke="#000" stroke-width="0.9"/>
<circle cx="280.17" cy="851.2" r="3.25" stroke="#000" stroke-width="0.9"/>
<circle cx="291.53" cy="849.1" r="3.25" stroke="#000" stroke-width="0.9"/>
<circle cx="302.89" cy="847.9" r="3.25" stroke="#000" stroke-width="0.9"/>
<circle cx="314.24" cy="846" r="3.25" stroke="#000" stroke-width="0.9"/>
<circle cx="325.6" cy="843.1" r="3.25" stroke="#000" stroke-width="0.9"/>
<circle cx="336.95" cy="838.5" r="3.25" stroke="#000" stroke-width="0.9"/>
<circle cx="348.31" cy="834.5" r="3.25" stroke="#000" stroke-width="0.9"/>
<circle cx="359.67" cy="828.9" r="3.25" stroke="#000" stroke-width="0.9"/>
<circle cx="371.02" cy="821.7" r="3.25" stroke="#000" stroke-width="0.9"/>
<path d="M212.04 796V796.2M212.04 803.8V804M208.44 796H215.64M208.44 804H215.64" stroke="#f00" stroke-width="0.9"/>
<path d="M223.39 791.24V791.6M223.39 799.2V799.56M219.79 791.24H226.99M219.79 799.56H226.99" stroke="#f00" stroke-width="0.9"/>
<path d="M234.75 789.76V790.2M234.75 797.8V798.24M231.15 789.76H238.35M231.15 798.24H238.35" stroke="#f00" stroke-width="0.9"/>
<path d="M246.11 790.48V791M246.11 798.6V799.12M242.51 790.48H249.71M242.51 799.12H249.71" stroke="#f00" stroke-width="0.9"/>
<path d="M257.46 790.8V791M257.46 798.6V798.8M253.86 790.8H261.06M253.86 798.8H261.06" stroke="#f00" stroke-width="0.9"/>
<path d="M268.82 790.7V792.2M268.82 799.8V801.3M265.22 790.7H272.42M265.22 801.3H272.42" stroke="#f00" stroke-width="0.9"/>
<path d="M280.17 791.6V794.2M280.17 801.8V804.4M276.57 791.6H283.77M276.57 804.4H283.77" stroke="#f00" stroke-width="0.9"/>
<path d="M291.53 793.4V797.3M291.53 804.9V808.8M287.93 793.4H295.13M287.93 808.8H295.13" stroke="#f00" stroke-width="0.9"/>
<path d="M302.89 793.5V799M302.89 806.6V812.1M299.29 793.5H306.49M299.29 812.1H306.49" stroke="#f00" stroke-width="0.9"/>
<path d="M314.24 785.5V793M314.24 800.6V808.1M310.64 785.5H317.84M310.64 808.1H317.84" stroke="#f00" stroke-width="0.9"/>
<path d="M325.6 792.5V803.3M325.6 810.9V821.7M322 792.5H329.2M322 821.7H329.2" stroke="#f00" stroke-width="0.9"/>
<rect x="140.6" y="850.9" width="6.6" height="6.6" stroke="#f00" stroke-width="0.9"/>
<rect x="151.96" y="836.7" width="6.6" height="6.6" stroke="#f00" stroke-width="0.9"/>
<rect x="163.31" y="825.7" width="6.6" height="6.6" stroke="#f00" stroke-width="0.9"/>
<rect x="174.67" y="816.3" width="6.6" height="6.6" stroke="#f00" stroke-width="0.9"/>
<rect x="186.03" y="808.8" width="6.6" height="6.6" stroke="#f00" stroke-width="0.9"/>
<rect x="197.38" y="802.4" width="6.6" height="6.6" stroke="#f00" stroke-width="0.9"/>
<rect x="208.74" y="796.7" width="6.6" height="6.6" stroke="#f00" stroke-width="0.9"/>
<rect x="220.09" y="792.1" width="6.6" height="6.6" stroke="#f00" stroke-width="0.9"/>
<rect x="231.45" y="790.7" width="6.6" height="6.6" stroke="#f00" stroke-width="0.9"/>
<rect x="242.81" y="791.5" width="6.6" height="6.6" stroke="#f00" stroke-width="0.9"/>
<rect x="254.16" y="791.5" width="6.6" height="6.6" stroke="#f00" stroke-width="0.9"/>
<rect x="265.52" y="792.7" width="6.6" height="6.6" stroke="#f00" stroke-width="0.9"/>
<rect x="276.87" y="794.7" width="6.6" height="6.6" stroke="#f00" stroke-width="0.9"/>
<rect x="288.23" y="797.8" width="6.6" height="6.6" stroke="#f00" stroke-width="0.9"/>
<rect x="299.59" y="799.5" width="6.6" height="6.6" stroke="#f00" stroke-width="0.9"/>
<rect x="310.94" y="793.5" width="6.6" height="6.6" stroke="#f00" stroke-width="0.9"/>
<rect x="322.3" y="803.8" width="6.6" height="6.6" stroke="#f00" stroke-width="0.9"/>
<path d="M143.9 740.1V748.8M143.9 748.8V757.5M140.3 740.1H147.5M140.3 757.5H147.5" stroke="#f0f" stroke-width="0.9"/>
<path d="M155.26 733.2V741.8M155.26 741.8V750.4M151.66 733.2H158.86M151.66 750.4H158.86" stroke="#f0f" stroke-width="0.9"/>
<path d="M166.61 725.7V734.2M166.61 734.2V742.7M163.01 725.7H170.21M163.01 742.7H170.21" stroke="#f0f" stroke-width="0.9"/>
<path d="M177.97 723.6V732.3M177.97 732.3V741M174.37 723.6H181.57M174.37 741H181.57" stroke="#f0f" stroke-width="0.9"/>
<path d="M189.33 728.2V737.1M189.33 737.1V746M185.73 728.2H192.93M185.73 746H192.93" stroke="#f0f" stroke-width="0.9"/>
<path d="M200.68 732.6V741.9M200.68 741.9V751.2M197.08 732.6H204.28M197.08 751.2H204.28" stroke="#f0f" stroke-width="0.9"/>
<path d="M212.04 736.3V746.2M212.04 746.2V756.1M208.44 736.3H215.64M208.44 756.1H215.64" stroke="#f0f" stroke-width="0.9"/>
<path d="M223.39 739.9V751.2M223.39 751.2V762.5M219.79 739.9H226.99M219.79 762.5H226.99" stroke="#f0f" stroke-width="0.9"/>
<path d="M234.75 744.7V758.6M234.75 758.6V772.5M231.15 744.7H238.35M231.15 772.5H238.35" stroke="#f0f" stroke-width="0.9"/>
<path d="M246.11 749.1V767.6M246.11 767.6V786.1M242.51 749.1H249.71M242.51 786.1H249.71" stroke="#f0f" stroke-width="0.9"/>
<path d="M140.3 748.8H147.5M143.9 745.2V752.4M141.31 746.21L146.49 751.39M141.31 751.39L146.49 746.21" stroke="#f0f" stroke-width="1"/>
<path d="M151.66 741.8H158.86M155.26 738.2V745.4M152.67 739.21L157.85 744.39M152.67 744.39L157.85 739.21" stroke="#f0f" stroke-width="1"/>
<path d="M163.01 734.2H170.21M166.61 730.6V737.8M164.02 731.61L169.21 736.79M164.02 736.79L169.21 731.61" stroke="#f0f" stroke-width="1"/>
<path d="M174.37 732.3H181.57M177.97 728.7V735.9M175.38 729.71L180.56 734.89M175.38 734.89L180.56 729.71" stroke="#f0f" stroke-width="1"/>
<path d="M185.73 737.1H192.93M189.33 733.5V740.7M186.73 734.51L191.92 739.69M186.73 739.69L191.92 734.51" stroke="#f0f" stroke-width="1"/>
<path d="M197.08 741.9H204.28M200.68 738.3V745.5M198.09 739.31L203.27 744.49M198.09 744.49L203.27 739.31" stroke="#f0f" stroke-width="1"/>
<path d="M208.44 746.2H215.64M212.04 742.6V749.8M209.45 743.61L214.63 748.79M209.45 748.79L214.63 743.61" stroke="#f0f" stroke-width="1"/>
<path d="M219.79 751.2H226.99M223.39 747.6V754.8M220.8 748.61L225.99 753.79M220.8 753.79L225.99 748.61" stroke="#f0f" stroke-width="1"/>
<path d="M231.15 758.6H238.35M234.75 755V762.2M232.16 756.01L237.34 761.19M232.16 761.19L237.34 756.01" stroke="#f0f" stroke-width="1"/>
<path d="M242.51 767.6H249.71M246.11 764V771.2M243.51 765.01L248.7 770.19M243.51 770.19L248.7 765.01" stroke="#f0f" stroke-width="1"/>
<path d="M140.9 801.72L146.9 801.72L143.9 795.72Z" fill="#0f0" stroke="none"/>
<path d="M152.26 791.02L158.26 791.02L155.26 785.02Z" fill="#0f0" stroke="none"/>
<path d="M163.61 781.12L169.61 781.12L166.61 775.12Z" fill="#0f0" stroke="none"/>
<path d="M174.97 773.92L180.97 773.92L177.97 767.92Z" fill="#0f0" stroke="none"/>
<path d="M186.33 772.22L192.33 772.22L189.33 766.22Z" fill="#0f0" stroke="none"/>
<path d="M197.68 772.22L203.68 772.22L200.68 766.22Z" fill="#0f0" stroke="none"/>
<path d="M209.04 773.92L215.04 773.92L212.04 767.92Z" fill="#0f0" stroke="none"/>
<path d="M220.39 778.72L226.39 778.72L223.39 772.72Z" fill="#0f0" stroke="none"/>
<path d="M231.75 781.62L237.75 781.62L234.75 775.62Z" fill="#0f0" stroke="none"/>
<path d="M243.11 787.82L249.11 787.82L246.11 781.82Z" fill="#0f0" stroke="none"/>
<path d="M254.46 794.52L260.46 794.52L257.46 788.52Z" fill="#0f0" stroke="none"/>
<path d="M265.82 804.02L271.82 804.02L268.82 798.02Z" fill="#0f0" stroke="none"/>
<path d="M277.17 813.92L283.17 813.92L280.17 807.92Z" fill="#0f0" stroke="none"/>
<path d="M288.5 913.62L294.5 913.62L291.5 907.62Z" fill="#0f0" stroke="none"/>
<path d="M300 919.92L306 919.92L303 913.92Z" fill="#0f0" stroke="none"/>
<path d="M92.8 986.7L94.3 984.78L95.8 982.87L97.3 980.97L98.8 979.06L100.3 977.17L101.8 975.28L103.3 973.4L104.8 971.52L106.3 969.66L107.8 967.8L109.3 965.95L110.8 964.11L112.3 962.28L113.8 960.46L115.3 958.65L116.8 956.86L118.3 955.07L119.8 953.3L121.3 951.54L122.8 949.79L124.3 948.06L125.8 946.33L127.3 944.63L128.8 942.93L130.3 941.25L131.8 939.59L133.3 937.94L134.8 936.3L136.3 934.68L137.8 933.07L139.3 931.48L140.8 929.91L142.3 928.35L143.8 926.8L145.3 925.27L146.8 923.76L148.3 922.26L149.8 920.78L151.3 919.31L152.8 917.86L154.3 916.43L155.8 915.01L157.3 913.6L158.8 912.21L160.3 910.84L161.8 909.48L163.3 908.14L164.8 906.81L166.3 905.49L167.8 904.19L169.3 902.91L170.8 901.64L172.3 900.38L173.8 899.13L175.3 897.9L176.8 896.68L178.3 895.48L179.8 894.28L181.3 893.1L182.8 891.93L184.3 890.77L185.8 889.62L187.3 888.48L188.8 887.35L190.3 886.23L191.8 885.12L193.3 884.02L194.8 882.92L196.3 881.84L197.8 880.75L199.3 879.68L200.8 878.61L202.3 877.54L203.8 876.48L204.5 875.99" stroke="#000" stroke-width="1" stroke-linejoin="round"/>
<path d="M92.8 986.7L94.3 981.27L95.8 975.94L97.3 970.7L98.8 965.54L100.3 960.48L101.8 955.5L103.3 950.61L104.8 945.8L106.3 941.08L107.8 936.44L109.3 931.89L110.8 927.43L112.3 923.06L113.8 918.77L115.3 914.58L116.8 910.48L118.3 906.48L119.8 902.57L121.3 898.76L122.8 895.05L124.3 891.45L125.8 887.94L127.3 884.54L128.8 881.25L130.3 878.05L131.8 874.97L133.3 871.99L134.8 869.11L136.3 866.34L137.8 863.67L139.3 861.11L140.8 858.65L142.3 856.28L143.8 854.01L145.3 851.84L146.8 849.75L148.3 847.76L149.8 845.85L151.3 844.02L152.8 842.27L154.3 840.59L155.8 838.99L157.3 837.44L158.8 835.96L160.3 834.53L161.8 833.15L163.3 831.81L164.8 830.52L166.3 829.26L167.8 828.03L169.3 826.83L170.8 825.65L172.3 824.49L173.8 823.34L175.3 822.2L176.8 821.07L178.3 819.94L179.8 818.82L181.3 817.7L182.8 816.58L184.3 815.46L185.8 814.34L187.3 813.23L188.8 812.13L190.3 811.04L191.8 809.96L193.3 808.92L194.8 807.9L196.3 806.93L197.8 806.01L199.3 805.16L200.8 804.39L202.3 803.72L203.8 803.17L204 803.11" stroke="#f00" stroke-width="1" stroke-linejoin="round"/>
<path d="M92.8 986.7L94.3 976.53L95.8 966.74L97.3 957.34L98.8 948.31L100.3 939.64L101.8 931.32L103.3 923.33L104.8 915.67L106.3 908.33L107.8 901.29L109.3 894.55L110.8 888.1L112.3 881.92L113.8 876.01L115.3 870.36L116.8 864.96L118.3 859.8L119.8 854.88L121.3 850.17L122.8 845.68L124.3 841.4L125.8 837.32L127.3 833.43L128.8 829.73L130.3 826.2L131.8 822.84L133.3 819.64L134.8 816.6L136.3 813.71L137.8 810.97L139.3 808.35L140.8 805.88L142.3 803.52L143.8 801.29L145.3 799.17L146.8 797.16L148.3 795.25L149.8 793.44L151.3 791.73L152.8 790.1L154.3 788.56L155.8 787.1L157.3 785.72L158.8 784.42L160.3 783.18L161.8 782.01L163.3 780.9L164.8 779.86L166.3 778.87L167.8 777.93L169.3 777.05L170.8 776.22L172.3 775.44L173.8 774.71L175.3 774.01L176.8 773.37L178.3 772.76L179.8 772.2L181.3 771.67L182.8 771.19L184.3 770.74L185.8 770.33L187.3 769.96L188.8 769.63L190.3 769.33L191.8 769.07L193.3 768.86L194.8 768.68L196.3 768.54L197.8 768.45L199.3 768.4L200.8 768.39L202.3 768.43L203.8 768.52L204 768.54" stroke="#0f0" stroke-width="1" stroke-linejoin="round"/>
<path d="M92.8 986.7L94.3 972.19L95.8 958.89L97.3 946.63L98.8 935.26L100.3 924.64L101.8 914.67L103.3 905.25L104.8 896.3L106.3 887.76L107.8 879.57L109.3 871.68L110.8 864.07L112.3 856.7L113.8 849.55L115.3 842.61L116.8 835.87L118.3 829.33L119.8 822.97L121.3 816.82L122.8 810.86L124.3 805.1L125.8 799.56L127.3 794.23L128.8 789.12L130.3 784.23L131.8 779.59L133.3 775.18L134.8 771.01L136.3 767.09L137.8 763.41L139.3 759.99L140.8 756.81L142.3 753.87L143.8 751.18L145.3 748.72L146.8 746.49L148.3 744.48L149.8 742.69L151.3 741.1L152.8 739.7L154.3 738.49L155.8 737.45L157.3 736.57L158.8 735.84L160.3 735.24L161.8 734.76L163.3 734.4L164.8 734.14L166.3 733.98L167.8 733.89L169.3 733.88L170.8 733.93L172.3 734.04L173.8 734.2L175.3 734.41L176.8 734.66L178.3 734.95L179.8 735.28L181.3 735.65L182.8 736.05L184.3 736.49L185.8 736.96L187.3 737.47L188.8 738.01L190.3 738.59L191.8 739.2L193.3 739.84L194.8 740.49L196.3 741.15L197.8 741.81L199.3 742.45L200.8 743.04L202.3 743.55L203.8 743.95L204 743.99" stroke="#f0f" stroke-width="1" stroke-linejoin="round"/>
</g>
<path d="M121.19 998.5v-5M121.19 714.6v5M149.58 998.5v-9.5M149.58 714.6v9.5M177.97 998.5v-5M177.97 714.6v5M206.36 998.5v-9.5M206.36 714.6v9.5M234.75 998.5v-5M234.75 714.6v5M263.14 998.5v-9.5M263.14 714.6v9.5M291.53 998.5v-5M291.53 714.6v5M319.92 998.5v-9.5M319.92 714.6v9.5M348.31 998.5v-5M348.31 714.6v5M92.8 990h9.3M376.7 990h-9.3M92.8 969.12h4.8M376.7 969.12h-4.8M92.8 948.25h9.3M376.7 948.25h-9.3M92.8 927.38h4.8M376.7 927.38h-4.8M92.8 906.5h9.3M376.7 906.5h-9.3M92.8 885.62h4.8M376.7 885.62h-4.8M92.8 864.75h9.3M376.7 864.75h-9.3M92.8 843.88h4.8M376.7 843.88h-4.8M92.8 823h9.3M376.7 823h-9.3M92.8 802.12h4.8M376.7 802.12h-4.8M92.8 781.25h9.3M376.7 781.25h-9.3M92.8 760.38h4.8M376.7 760.38h-4.8M92.8 739.5h9.3M376.7 739.5h-9.3M92.8 718.62h4.8M376.7 718.62h-4.8" stroke="#000"/>
<rect x="92.8" y="714.6" width="283.9" height="283.9" stroke="#000" stroke-width="1.2"/>
<text x="370.3" y="747.9" text-anchor="end" fill="#000" stroke="none" font-size="18.4">1.2A GeV</text>
<g transform="translate(0 567.9)">
<ellipse cx="313.4" cy="338.9" rx="7.6" ry="6.9" fill="#000" stroke="none"/>
<ellipse cx="312.7" cy="338.35" rx="6.45" ry="5.9" fill="#fff" stroke="none"/>
<rect x="306.45" y="355.45" width="10.4" height="10.4" stroke="#f00" stroke-width="0.9"/>
<path d="M316.4 356.4H318.9V367.6H307.3V365.3H316.4Z" fill="#f00" stroke="none"/>
<path d="M306 389.9L321 389.9L313.5 377.5Z" fill="#0f0" stroke="none"/>
<path d="M312.2 400.2V412.6M306 406.4H318.4M307.85 402.05L316.55 410.75M307.85 410.75L316.55 402.05" stroke="#f0f" stroke-width="0.95"/>
<g stroke="none" font-size="19">
<text x="326.2" y="345.2" fill="#000">p</text>
<text x="324.0" y="367.5" fill="#f00" font-size="19.3">d</text>
<text x="327.2" y="389.9" fill="#0f0" font-size="18">A=3</text>
<text transform="translate(324.6 412.7) scale(1.16 1)" x="0" y="0" fill="#f0f" font-size="19">α</text>
</g></g>
<g fill="#000" stroke="none" text-anchor="end">
<text x="86" y="996.4">0.0</text>
<text x="86" y="954.65">0.1</text>
<text x="86" y="912.9">0.2</text>
<text x="86" y="871.15">0.3</text>
<text x="86" y="829.4">0.4</text>
<text x="86" y="787.65">0.5</text>
<text x="86" y="745.9">0.6</text>
</g>
<g fill="#000" stroke="none" transform="translate(42.9 865.6) rotate(-90)"><text x="0" y="0" font-size="19">v</text><text x="10" y="6" font-size="13.5">1</text></g>
<g fill="#000" stroke="none" text-anchor="middle">
<text x="149.58" y="1019.6">0.4</text>
<text x="206.36" y="1019.6">0.8</text>
<text x="263.14" y="1019.6">1.2</text>
<text x="319.92" y="1019.6">1.6</text>
</g>
<g fill="#000" stroke="none"><text x="224.5" y="1045.2" font-size="18.6">u</text><text x="234" y="1050.8" font-size="13">t0</text></g>
<g>
<path d="M564.07 846.7V847.35M564.07 854.85V855.5M560.47 846.7H567.67M560.47 855.5H567.67" stroke="#000" stroke-width="0.9"/>
<path d="M575.43 842.5V843.25M575.43 850.75V851.5M571.83 842.5H579.03M571.83 851.5H579.03" stroke="#000" stroke-width="0.9"/>
<path d="M586.79 838.7V839.45M586.79 846.95V847.7M583.19 838.7H590.39M583.19 847.7H590.39" stroke="#000" stroke-width="0.9"/>
<path d="M598.14 833.5V834.25M598.14 841.75V842.5M594.54 833.5H601.74M594.54 842.5H601.74" stroke="#000" stroke-width="0.9"/>
<path d="M609.5 827.8V829.05M609.5 836.55V837.8M605.9 827.8H613.1M605.9 837.8H613.1" stroke="#000" stroke-width="0.9"/>
<path d="M620.85 822.6V823.85M620.85 831.35V832.6M617.25 822.6H624.45M617.25 832.6H624.45" stroke="#000" stroke-width="0.9"/>
<path d="M632.21 815.5V817.25M632.21 824.75V826.5M628.61 815.5H635.81M628.61 826.5H635.81" stroke="#000" stroke-width="0.9"/>
<path d="M643.57 809.6V811.35M643.57 818.85V820.6M639.97 809.6H647.17M639.97 820.6H647.17" stroke="#000" stroke-width="0.9"/>
<path d="M654.92 803.5V805.75M654.92 813.25V815.5M651.32 803.5H658.52M651.32 815.5H658.52" stroke="#000" stroke-width="0.9"/>
<circle cx="427.8" cy="924.3" r="3.25" stroke="#000" stroke-width="0.9"/>
<circle cx="439.16" cy="912.8" r="3.25" stroke="#000" stroke-width="0.9"/>
<circle cx="450.51" cy="902" r="3.25" stroke="#000" stroke-width="0.9"/>
<circle cx="461.87" cy="892.4" r="3.25" stroke="#000" stroke-width="0.9"/>
<circle cx="473.23" cy="884.1" r="3.25" stroke="#000" stroke-width="0.9"/>
<circle cx="484.58" cy="876.8" r="3.25" stroke="#000" stroke-width="0.9"/>
<circle cx="495.94" cy="871.6" r="3.25" stroke="#000" stroke-width="0.9"/>
<circle cx="507.29" cy="867.4" r="3.25" stroke="#000" stroke-width="0.9"/>
<circle cx="518.65" cy="863.2" r="3.25" stroke="#000" stroke-width="0.9"/>
<circle cx="530.01" cy="860.2" r="3.25" stroke="#000" stroke-width="0.9"/>
<circle cx="541.36" cy="857.5" r="3.25" stroke="#000" stroke-width="0.9"/>
<circle cx="552.72" cy="854.3" r="3.25" stroke="#000" stroke-width="0.9"/>
<circle cx="564.07" cy="851.1" r="3.25" stroke="#000" stroke-width="0.9"/>
<circle cx="575.43" cy="847" r="3.25" stroke="#000" stroke-width="0.9"/>
<circle cx="586.79" cy="843.2" r="3.25" stroke="#000" stroke-width="0.9"/>
<circle cx="598.14" cy="838" r="3.25" stroke="#000" stroke-width="0.9"/>
<circle cx="609.5" cy="832.8" r="3.25" stroke="#000" stroke-width="0.9"/>
<circle cx="620.85" cy="827.6" r="3.25" stroke="#000" stroke-width="0.9"/>
<circle cx="632.21" cy="821" r="3.25" stroke="#000" stroke-width="0.9"/>
<circle cx="643.57" cy="815.1" r="3.25" stroke="#000" stroke-width="0.9"/>
<circle cx="654.92" cy="809.5" r="3.25" stroke="#000" stroke-width="0.9"/>
<path d="M495.94 791.8V792M495.94 799.6V799.8M492.34 791.8H499.54M492.34 799.8H499.54" stroke="#f00" stroke-width="0.9"/>
<path d="M507.29 788.74V789.1M507.29 796.7V797.06M503.69 788.74H510.89M503.69 797.06H510.89" stroke="#f00" stroke-width="0.9"/>
<path d="M518.65 787.26V787.7M518.65 795.3V795.74M515.05 787.26H522.25M515.05 795.74H522.25" stroke="#f00" stroke-width="0.9"/>
<path d="M530.01 786.68V787.2M530.01 794.8V795.32M526.41 786.68H533.61M526.41 795.32H533.61" stroke="#f00" stroke-width="0.9"/>
<path d="M541.36 787V787.2M541.36 794.8V795M537.76 787H544.96M537.76 795H544.96" stroke="#f00" stroke-width="0.9"/>
<path d="M552.72 785.2V787.4M552.72 795V797.2M549.12 785.2H556.32M549.12 797.2H556.32" stroke="#f00" stroke-width="0.9"/>
<path d="M564.07 790.7V793.7M564.07 801.3V804.3M560.47 790.7H567.67M560.47 804.3H567.67" stroke="#f00" stroke-width="0.9"/>
<path d="M575.43 790.8V795.1M575.43 802.7V807M571.83 790.8H579.03M571.83 807H579.03" stroke="#f00" stroke-width="0.9"/>
<path d="M586.79 795.3V801.4M586.79 809V815.1M583.19 795.3H590.39M583.19 815.1H590.39" stroke="#f00" stroke-width="0.9"/>
<path d="M598.14 789.5V797.8M598.14 805.4V813.7M594.54 789.5H601.74M594.54 813.7H601.74" stroke="#f00" stroke-width="0.9"/>
<path d="M609.5 794.6V806.1M609.5 813.7V825.2M605.9 794.6H613.1M605.9 825.2H613.1" stroke="#f00" stroke-width="0.9"/>
<rect x="424.5" y="845.4" width="6.6" height="6.6" stroke="#f00" stroke-width="0.9"/>
<rect x="435.86" y="829" width="6.6" height="6.6" stroke="#f00" stroke-width="0.9"/>
<rect x="447.21" y="817.2" width="6.6" height="6.6" stroke="#f00" stroke-width="0.9"/>
<rect x="458.57" y="809" width="6.6" height="6.6" stroke="#f00" stroke-width="0.9"/>
<rect x="469.93" y="802.3" width="6.6" height="6.6" stroke="#f00" stroke-width="0.9"/>
<rect x="481.28" y="797.2" width="6.6" height="6.6" stroke="#f00" stroke-width="0.9"/>
<rect x="492.64" y="792.5" width="6.6" height="6.6" stroke="#f00" stroke-width="0.9"/>
<rect x="503.99" y="789.6" width="6.6" height="6.6" stroke="#f00" stroke-width="0.9"/>
<rect x="515.35" y="788.2" width="6.6" height="6.6" stroke="#f00" stroke-width="0.9"/>
<rect x="526.71" y="787.7" width="6.6" height="6.6" stroke="#f00" stroke-width="0.9"/>
<rect x="538.06" y="787.7" width="6.6" height="6.6" stroke="#f00" stroke-width="0.9"/>
<rect x="549.42" y="787.9" width="6.6" height="6.6" stroke="#f00" stroke-width="0.9"/>
<rect x="560.77" y="794.2" width="6.6" height="6.6" stroke="#f00" stroke-width="0.9"/>
<rect x="572.13" y="795.6" width="6.6" height="6.6" stroke="#f00" stroke-width="0.9"/>
<rect x="583.49" y="801.9" width="6.6" height="6.6" stroke="#f00" stroke-width="0.9"/>
<rect x="594.84" y="798.3" width="6.6" height="6.6" stroke="#f00" stroke-width="0.9"/>
<rect x="606.2" y="806.6" width="6.6" height="6.6" stroke="#f00" stroke-width="0.9"/>
<path d="M427.8 733.4V742.2M427.8 742.2V751M424.2 733.4H431.4M424.2 751H431.4" stroke="#f0f" stroke-width="0.9"/>
<path d="M439.16 722.5V731.1M439.16 731.1V739.7M435.56 722.5H442.76M435.56 739.7H442.76" stroke="#f0f" stroke-width="0.9"/>
<path d="M450.51 720.3V728.9M450.51 728.9V737.5M446.91 720.3H454.11M446.91 737.5H454.11" stroke="#f0f" stroke-width="0.9"/>
<path d="M461.87 722.4V731.4M461.87 731.4V740.4M458.27 722.4H465.47M458.27 740.4H465.47" stroke="#f0f" stroke-width="0.9"/>
<path d="M473.23 725.1V734.5M473.23 734.5V743.9M469.63 725.1H476.83M469.63 743.9H476.83" stroke="#f0f" stroke-width="0.9"/>
<path d="M484.58 735.1V745.1M484.58 745.1V755.1M480.98 735.1H488.18M480.98 755.1H488.18" stroke="#f0f" stroke-width="0.9"/>
<path d="M495.94 753.5V764M495.94 764V774.5M492.34 753.5H499.54M492.34 774.5H499.54" stroke="#f0f" stroke-width="0.9"/>
<path d="M507.29 767.9V780.9M507.29 780.9V793.9M503.69 767.9H510.89M503.69 793.9H510.89" stroke="#f0f" stroke-width="0.9"/>
<path d="M518.65 796.4V813.7M518.65 813.7V831M515.05 796.4H522.25M515.05 831H522.25" stroke="#f0f" stroke-width="0.9"/>
<path d="M530.01 812.3V833.9M530.01 833.9V855.5M526.41 812.3H533.61M526.41 855.5H533.61" stroke="#f0f" stroke-width="0.9"/>
<path d="M541.36 823.6V849.9M541.36 849.9V876.2M537.76 823.6H544.96M537.76 876.2H544.96" stroke="#f0f" stroke-width="0.9"/>
<path d="M424.2 742.2H431.4M427.8 738.6V745.8M425.21 739.61L430.39 744.79M425.21 744.79L430.39 739.61" stroke="#f0f" stroke-width="1"/>
<path d="M435.56 731.1H442.76M439.16 727.5V734.7M436.57 728.51L441.75 733.69M436.57 733.69L441.75 728.51" stroke="#f0f" stroke-width="1"/>
<path d="M446.91 728.9H454.11M450.51 725.3V732.5M447.92 726.31L453.11 731.49M447.92 731.49L453.11 726.31" stroke="#f0f" stroke-width="1"/>
<path d="M458.27 731.4H465.47M461.87 727.8V735M459.28 728.81L464.46 733.99M459.28 733.99L464.46 728.81" stroke="#f0f" stroke-width="1"/>
<path d="M469.63 734.5H476.83M473.23 730.9V738.1M470.63 731.91L475.82 737.09M470.63 737.09L475.82 731.91" stroke="#f0f" stroke-width="1"/>
<path d="M480.98 745.1H488.18M484.58 741.5V748.7M481.99 742.51L487.17 747.69M481.99 747.69L487.17 742.51" stroke="#f0f" stroke-width="1"/>
<path d="M492.34 764H499.54M495.94 760.4V767.6M493.35 761.41L498.53 766.59M493.35 766.59L498.53 761.41" stroke="#f0f" stroke-width="1"/>
<path d="M503.69 780.9H510.89M507.29 777.3V784.5M504.7 778.31L509.89 783.49M504.7 783.49L509.89 778.31" stroke="#f0f" stroke-width="1"/>
<path d="M515.05 813.7H522.25M518.65 810.1V817.3M516.06 811.11L521.24 816.29M516.06 816.29L521.24 811.11" stroke="#f0f" stroke-width="1"/>
<path d="M526.41 833.9H533.61M530.01 830.3V837.5M527.41 831.31L532.6 836.49M527.41 836.49L532.6 831.31" stroke="#f0f" stroke-width="1"/>
<path d="M537.76 849.9H544.96M541.36 846.3V853.5M538.77 847.31L543.95 852.49M538.77 852.49L543.95 847.31" stroke="#f0f" stroke-width="1"/>
<path d="M427.8 781.1V787.1M427.8 787.1V793.1M424.2 781.1H431.4M424.2 793.1H431.4" stroke="#0f0" stroke-width="0.9"/>
<path d="M439.16 766.5V772.5M439.16 772.5V778.5M435.56 766.5H442.76M435.56 778.5H442.76" stroke="#0f0" stroke-width="0.9"/>
<path d="M450.51 757.1V763.1M450.51 763.1V769.1M446.91 757.1H454.11M446.91 769.1H454.11" stroke="#0f0" stroke-width="0.9"/>
<path d="M461.87 749.8V755.8M461.87 755.8V761.8M458.27 749.8H465.47M458.27 761.8H465.47" stroke="#0f0" stroke-width="0.9"/>
<path d="M473.23 745.6V751.6M473.23 751.6V757.6M469.63 745.6H476.83M469.63 757.6H476.83" stroke="#0f0" stroke-width="0.9"/>
<path d="M484.58 745.1V751.1M484.58 751.1V757.1M480.98 745.1H488.18M480.98 757.1H488.18" stroke="#0f0" stroke-width="0.9"/>
<path d="M495.94 748.5V755.1M495.94 755.1V761.7M492.34 748.5H499.54M492.34 761.7H499.54" stroke="#0f0" stroke-width="0.9"/>
<path d="M507.29 757.3V764.3M507.29 764.3V771.3M503.69 757.3H510.89M503.69 771.3H510.89" stroke="#0f0" stroke-width="0.9"/>
<path d="M518.65 763.9V771.2M518.65 771.2V778.5M515.05 763.9H522.25M515.05 778.5H522.25" stroke="#0f0" stroke-width="0.9"/>
<path d="M530.01 772.3V780.6M530.01 780.6V788.9M526.41 772.3H533.61M526.41 788.9H533.61" stroke="#0f0" stroke-width="0.9"/>
<path d="M541.36 782.1V791M541.36 791V799.9M537.76 782.1H544.96M537.76 799.9H544.96" stroke="#0f0" stroke-width="0.9"/>
<path d="M424.1 790.21L431.5 790.21L427.8 782.81Z" fill="#0f0" stroke="none"/>
<path d="M435.46 775.61L442.86 775.61L439.16 768.21Z" fill="#0f0" stroke="none"/>
<path d="M446.81 766.21L454.21 766.21L450.51 758.81Z" fill="#0f0" stroke="none"/>
<path d="M458.17 758.91L465.57 758.91L461.87 751.51Z" fill="#0f0" stroke="none"/>
<path d="M469.53 754.71L476.93 754.71L473.23 747.31Z" fill="#0f0" stroke="none"/>
<path d="M480.88 754.21L488.28 754.21L484.58 746.81Z" fill="#0f0" stroke="none"/>
<path d="M492.24 758.21L499.64 758.21L495.94 750.81Z" fill="#0f0" stroke="none"/>
<path d="M503.59 767.41L510.99 767.41L507.29 760.01Z" fill="#0f0" stroke="none"/>
<path d="M514.95 774.31L522.35 774.31L518.65 766.91Z" fill="#0f0" stroke="none"/>
<path d="M526.31 783.71L533.71 783.71L530.01 776.31Z" fill="#0f0" stroke="none"/>
<path d="M537.66 794.11L545.06 794.11L541.36 786.71Z" fill="#0f0" stroke="none"/>
<path d="M377 988L378.5 986.39L380 984.7L381.5 982.96L383 981.15L384.5 979.3L386 977.4L387.5 975.47L389 973.5L390.5 971.51L392 969.5L393.5 967.48L395 965.44L396.5 963.4L398 961.36L399.5 959.32L401 957.28L402.5 955.24L404 953.22L405.5 951.2L407 949.21L408.5 947.22L410 945.26L411.5 943.31L413 941.38L414.5 939.48L416 937.6L417.5 935.74L419 933.91L420.5 932.1L422 930.32L423.5 928.56L425 926.83L426.5 925.13L428 923.46L429.5 921.81L431 920.19L432.5 918.6L434 917.03L435.5 915.49L437 913.98L438.5 912.5L440 911.04L441.5 909.61L443 908.21L444.5 906.83L446 905.47L447.5 904.15L449 902.84L450.5 901.57L452 900.31L453.5 899.08L455 897.88L456.5 896.69L458 895.53L459.5 894.39L461 893.28L462.5 892.18L464 891.11L465.5 890.06L467 889.02L468.5 888.01L470 887.02L471.5 886.05L473 885.1L474.5 884.16L476 883.25L477.5 882.35L479 881.48L480.5 880.62L482 879.77L483.5 878.95L485 878.14L486.5 877.35L488 876.57L489.5 875.82L491 875.07L492.5 874.35L494 873.63L495.5 872.94L497 872.26L498.5 871.59L500 870.94L501.5 870.3L503 869.67L504.5 869.06L506 868.46L507.5 867.87L509 867.3L510.5 866.74L512 866.18L513.5 865.64L515 865.11L516.5 864.59L518 864.08L519.5 863.58L521 863.09L522.5 862.6L524 862.13L525.5 861.65L527 861.19L528.5 860.73L530 860.28L531.5 859.83L533 859.39L534.5 858.95L536 858.51L537.5 858.08L539 857.64L540.5 857.21L542 856.78L543.5 856.35L545 855.92L546.5 855.48L548 855.05L549.5 854.61L551 854.17L552.5 853.73L554 853.28L555.5 852.83L557 852.37L558.5 851.92L560 851.45L561.5 850.98L563 850.51L564.5 850.03L566 849.55L567.5 849.06L569 848.57L570.5 848.07L572 847.58L573.5 847.08L575 846.58L576.5 846.08L578 845.58L579.5 845.08L581 844.59L582.5 844.1L584 843.62L585.5 843.16L587 842.7L588.5 842.26L590 841.85L590.5 841.71" stroke="#000" stroke-width="1" stroke-linejoin="round"/>
<path d="M377 985.8L378.5 980.54L380 975.35L381.5 970.22L383 965.17L384.5 960.18L386 955.27L387.5 950.44L389 945.67L390.5 940.99L392 936.38L393.5 931.85L395 927.4L396.5 923.02L398 918.73L399.5 914.52L401 910.39L402.5 906.34L404 902.37L405.5 898.49L407 894.69L408.5 890.97L410 887.33L411.5 883.78L413 880.31L414.5 876.92L416 873.62L417.5 870.4L419 867.26L420.5 864.2L422 861.22L423.5 858.32L425 855.51L426.5 852.77L428 850.12L429.5 847.54L431 845.04L432.5 842.61L434 840.27L435.5 837.99L437 835.8L438.5 833.67L440 831.62L441.5 829.64L443 827.74L444.5 825.9L446 824.13L447.5 822.43L449 820.79L450.5 819.22L452 817.71L453.5 816.27L455 814.88L456.5 813.56L458 812.29L459.5 811.09L461 809.94L462.5 808.84L464 807.8L465.5 806.81L467 805.87L468.5 804.98L470 804.13L471.5 803.34L473 802.59L474.5 801.88L476 801.21L477.5 800.59L479 800.01L480.5 799.46L482 798.95L483.5 798.47L485 798.03L486.5 797.62L488 797.24L489.5 796.9L491 796.57L492.5 796.28L494 796.01L495.5 795.77L497 795.55L498.5 795.35L500 795.17L501.5 795.01L503 794.87L504.5 794.74L506 794.63L507.5 794.53L509 794.45L510.5 794.38L512 794.32L513.5 794.27L515 794.23L516.5 794.2L518 794.18L519.5 794.16L521 794.15L522.5 794.14L524 794.13L525.5 794.13L527 794.14L528.5 794.14L530 794.15L531.5 794.16L533 794.17L534.5 794.18L536 794.19L537.5 794.2L539 794.21L540.5 794.22L542 794.23L543.5 794.23L545 794.24L546.5 794.25L548 794.26L549.5 794.27L551 794.27L552.5 794.28L554 794.29L555.5 794.31L556.6 794.32" stroke="#f00" stroke-width="1" stroke-linejoin="round"/>
<path d="M380.3 968.9L381.8 960.95L383.3 953.1L384.8 945.37L386.3 937.76L387.8 930.29L389.3 922.96L390.8 915.78L392.3 908.76L393.8 901.89L395.3 895.18L396.8 888.65L398.3 882.28L399.8 876.08L401.3 870.06L402.8 864.21L404.3 858.53L405.8 853.03L407.3 847.71L408.8 842.55L410.3 837.57L411.8 832.76L413.3 828.12L414.8 823.65L416.3 819.34L417.8 815.19L419.3 811.21L420.8 807.38L422.3 803.71L423.8 800.19L425.3 796.82L426.8 793.59L428.3 790.51L429.8 787.57L431.3 784.76L432.8 782.09L434.3 779.55L435.8 777.14L437.3 774.85L438.8 772.69L440.3 770.64L441.8 768.72L443.3 766.9L444.8 765.19L446.3 763.6L447.8 762.11L449.3 760.72L450.8 759.43L452.3 758.24L453.8 757.14L455.3 756.14L456.8 755.22L458.3 754.4L459.8 753.66L461.3 753.01L462.8 752.44L464.3 751.95L465.8 751.54L467.3 751.21L468.8 750.95L470.3 750.76L471.8 750.65L473.3 750.6L474.8 750.63L476.3 750.71L477.8 750.87L479.3 751.08L480.8 751.36L482.3 751.7L483.8 752.09L485.3 752.54L486.8 753.05L488.3 753.6L489.8 754.21L491.3 754.86L492.8 755.56L494.3 756.31L495.8 757.1L497.3 757.92L498.8 758.79L500.3 759.69L501.8 760.63L503.3 761.59L504.8 762.59L506.3 763.61L507.8 764.66L509.3 765.72L510.8 766.81L512.3 767.91L513.8 769.03L515.3 770.15L516.8 771.29L518.3 772.43L519.8 773.57L521.3 774.71L522.8 775.85L524.3 776.99L525.8 778.11L527.3 779.23L528.8 780.33L530.3 781.42L531.8 782.49L533.3 783.54L534.8 784.57L536.3 785.57L537.8 786.55L539.3 787.51L540.8 788.43L541.4 788.8" stroke="#0f0" stroke-width="1" stroke-linejoin="round"/>
<path d="M380.7 957.5L382.2 948.08L383.7 938.7L385.2 929.38L386.7 920.15L388.2 911.03L389.7 902.04L391.2 893.21L392.7 884.54L394.2 876.05L395.7 867.76L397.2 859.68L398.7 851.81L400.2 844.17L401.7 836.77L403.2 829.6L404.7 822.68L406.2 816.01L407.7 809.59L409.2 803.42L410.7 797.51L412.2 791.85L413.7 786.44L415.2 781.29L416.7 776.39L418.2 771.73L419.7 767.33L421.2 763.16L422.7 759.23L424.2 755.54L425.7 752.08L427.2 748.84L428.7 745.83L430.2 743.03L431.7 740.44L433.2 738.06L434.7 735.87L436.2 733.89L437.7 732.09L439.2 730.48L440.7 729.05L442.2 727.8L443.7 726.71L445.2 725.79L446.7 725.03L448.2 724.43L449.7 723.97L451.2 723.66L452.7 723.5L454.2 723.47L455.7 723.57L457.2 723.81L458.7 724.17L460.2 724.66L461.7 725.26L463.2 725.98L464.7 726.82L466.2 727.76L467.7 728.82L469.2 729.98L470.7 731.24L472.2 732.6L473.7 734.07L475.2 735.62L476.7 737.28L478.2 739.02L479.7 740.86L481.2 742.79L482.7 744.8L484.2 746.9L485.7 749.08L487.2 751.34L488.7 753.68L490.2 756.09L491.7 758.59L493.2 761.15L494.7 763.78L496.2 766.48L497.7 769.25L499.2 772.07L500.7 774.95L502.2 777.89L503.7 780.87L505.2 783.9L506.7 786.97L508.2 790.07L509.7 793.2L511.2 796.36L512.7 799.53L514.2 802.71L515.7 805.89L517.2 809.07L518.7 812.23L520.2 815.36L521.7 818.47L523.2 821.52L524.7 824.52L526.2 827.45L527.7 830.3L529.2 833.05L530.7 835.69L532.2 838.21L533.7 840.59L535.2 842.81L536.7 844.85L538.2 846.7L539.7 848.33L541.2 849.72L541.4 849.89" stroke="#f0f" stroke-width="1" stroke-linejoin="round"/>
</g>
<path d="M405.09 998.5v-5M405.09 714.6v5M433.48 998.5v-9.5M433.48 714.6v9.5M461.87 998.5v-5M461.87 714.6v5M490.26 998.5v-9.5M490.26 714.6v9.5M518.65 998.5v-5M518.65 714.6v5M547.04 998.5v-9.5M547.04 714.6v9.5M575.43 998.5v-5M575.43 714.6v5M603.82 998.5v-9.5M603.82 714.6v9.5M632.21 998.5v-5M632.21 714.6v5M376.7 990h9.3M660.6 990h-9.3M376.7 969.12h4.8M660.6 969.12h-4.8M376.7 948.25h9.3M660.6 948.25h-9.3M376.7 927.38h4.8M660.6 927.38h-4.8M376.7 906.5h9.3M660.6 906.5h-9.3M376.7 885.62h4.8M660.6 885.62h-4.8M376.7 864.75h9.3M660.6 864.75h-9.3M376.7 843.88h4.8M660.6 843.88h-4.8M376.7 823h9.3M660.6 823h-9.3M376.7 802.12h4.8M660.6 802.12h-4.8M376.7 781.25h9.3M660.6 781.25h-9.3M376.7 760.38h4.8M660.6 760.38h-4.8M376.7 739.5h9.3M660.6 739.5h-9.3M376.7 718.62h4.8M660.6 718.62h-4.8" stroke="#000"/>
<rect x="376.7" y="714.6" width="283.9" height="283.9" stroke="#000" stroke-width="1.2"/>
<text x="654.2" y="747.9" text-anchor="end" fill="#000" stroke="none" font-size="18.4">1.5A GeV</text>
<g transform="translate(283.9 567.9)">
<ellipse cx="313.4" cy="338.9" rx="7.6" ry="6.9" fill="#000" stroke="none"/>
<ellipse cx="312.7" cy="338.35" rx="6.45" ry="5.9" fill="#fff" stroke="none"/>
<rect x="306.45" y="355.45" width="10.4" height="10.4" stroke="#f00" stroke-width="0.9"/>
<path d="M316.4 356.4H318.9V367.6H307.3V365.3H316.4Z" fill="#f00" stroke="none"/>
<path d="M306 389.9L321 389.9L313.5 377.5Z" fill="#0f0" stroke="none"/>
<path d="M312.2 400.2V412.6M306 406.4H318.4M307.85 402.05L316.55 410.75M307.85 410.75L316.55 402.05" stroke="#f0f" stroke-width="0.95"/>
<g stroke="none" font-size="19">
<text x="326.2" y="345.2" fill="#000">p</text>
<text x="324.0" y="367.5" fill="#f00" font-size="19.3">d</text>
<text x="327.2" y="389.9" fill="#0f0" font-size="18">A=3</text>
<text transform="translate(324.6 412.7) scale(1.16 1)" x="0" y="0" fill="#f0f" font-size="19">α</text>
</g></g>
<g fill="#000" stroke="none" text-anchor="middle">
<text x="433.48" y="1019.6">0.4</text>
<text x="490.26" y="1019.6">0.8</text>
<text x="547.04" y="1019.6">1.2</text>
<text x="603.82" y="1019.6">1.6</text>
</g>
<g fill="#000" stroke="none"><text x="508.4" y="1045.2" font-size="18.6">u</text><text x="517.9" y="1050.8" font-size="13">t0</text></g>
</svg>
</body></html>
